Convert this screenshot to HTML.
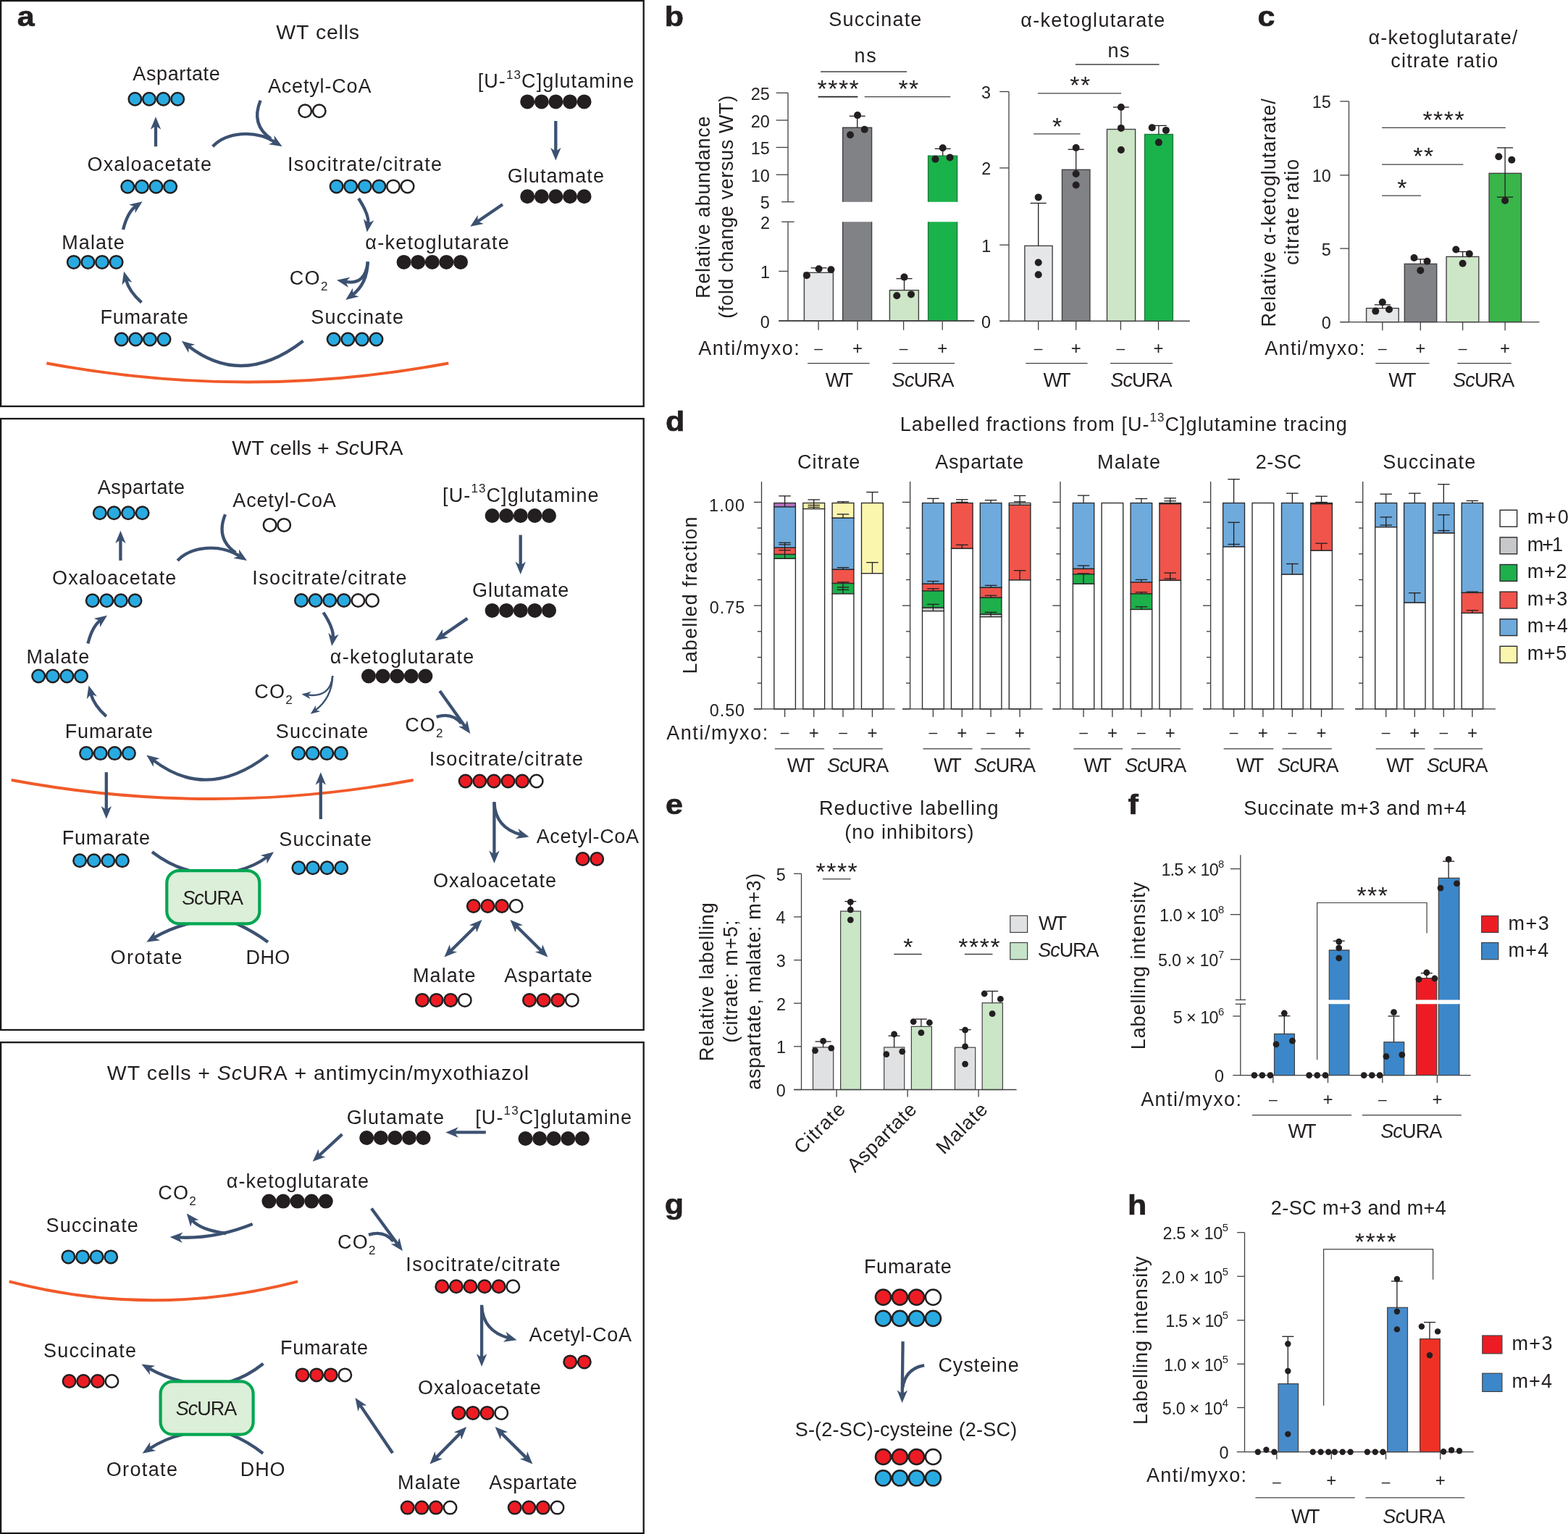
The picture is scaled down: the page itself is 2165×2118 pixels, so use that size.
<!DOCTYPE html>
<html lang="en"><head><meta charset="utf-8"><title>Figure</title>
<style>html,body{margin:0;padding:0;background:#fff}svg{display:block}text{font-family:"Liberation Sans",sans-serif;fill:#231f20;white-space:pre;font-kerning:none}</style></head>
<body>
<svg width="2165" height="2118" viewBox="0 0 2165 2118">
<rect x="1.1" y="1.1" width="887.6" height="559.9" fill="none" stroke="#1a1718" stroke-width="2.3"/>
<text transform="translate(25.1 36.3) scale(1.09 1)" x="-1.16" y="0" font-size="39.5" font-weight="700" stroke="#231f20" stroke-width="0.7" stroke-linejoin="round">a</text>
<text x="381.37" y="54" font-size="28.5" letter-spacing="0.77">WT cells</text>
<text x="183.35" y="110.6" font-size="27" letter-spacing="0.6">Aspartate</text>
<text x="369.95" y="128" font-size="27" letter-spacing="0.83">Acetyl-CoA</text>
<text x="659.68" y="121.3" font-size="27" letter-spacing="1.1">[U-<tspan font-size="17.01" dy="-12.69">13</tspan><tspan dy="12.69">C]glutamine</tspan></text>
<text x="120.62" y="235.8" font-size="27" letter-spacing="1.11">Oxaloacetate</text>
<text x="396.91" y="235.8" font-size="27" letter-spacing="1.33">Isocitrate/citrate</text>
<text x="700.64" y="252" font-size="27" letter-spacing="1.09">Glutamate</text>
<text x="85.19" y="344" font-size="27" letter-spacing="1.13">Malate</text>
<text x="504.37" y="344" font-size="27" letter-spacing="1.27">α-ketoglutarate</text>
<text x="399.83" y="392.6" font-size="27" letter-spacing="1.28">CO<tspan font-size="17.01" dy="8.1">2</tspan></text>
<text x="138.39" y="446.9" font-size="27" letter-spacing="0.82">Fumarate</text>
<text x="429.37" y="446.9" font-size="27" letter-spacing="1.12">Succinate</text>
<circle cx="186.4" cy="136.7" r="8.75" fill="#29abe2" stroke="#231f20" stroke-width="2.5"/>
<circle cx="206" cy="136.7" r="8.75" fill="#29abe2" stroke="#231f20" stroke-width="2.5"/>
<circle cx="225.6" cy="136.7" r="8.75" fill="#29abe2" stroke="#231f20" stroke-width="2.5"/>
<circle cx="245.2" cy="136.7" r="8.75" fill="#29abe2" stroke="#231f20" stroke-width="2.5"/>
<circle cx="421.2" cy="153.3" r="8.75" fill="#ffffff" stroke="#231f20" stroke-width="2.5"/>
<circle cx="440.8" cy="153.3" r="8.75" fill="#ffffff" stroke="#231f20" stroke-width="2.5"/>
<circle cx="728.2" cy="140.4" r="8.75" fill="#231f20" stroke="#231f20" stroke-width="2.5"/>
<circle cx="747.8" cy="140.4" r="8.75" fill="#231f20" stroke="#231f20" stroke-width="2.5"/>
<circle cx="767.4" cy="140.4" r="8.75" fill="#231f20" stroke="#231f20" stroke-width="2.5"/>
<circle cx="787" cy="140.4" r="8.75" fill="#231f20" stroke="#231f20" stroke-width="2.5"/>
<circle cx="806.6" cy="140.4" r="8.75" fill="#231f20" stroke="#231f20" stroke-width="2.5"/>
<circle cx="176.3" cy="257.7" r="8.75" fill="#29abe2" stroke="#231f20" stroke-width="2.5"/>
<circle cx="195.9" cy="257.7" r="8.75" fill="#29abe2" stroke="#231f20" stroke-width="2.5"/>
<circle cx="215.5" cy="257.7" r="8.75" fill="#29abe2" stroke="#231f20" stroke-width="2.5"/>
<circle cx="235.1" cy="257.7" r="8.75" fill="#29abe2" stroke="#231f20" stroke-width="2.5"/>
<circle cx="464.6" cy="257.4" r="8.75" fill="#29abe2" stroke="#231f20" stroke-width="2.5"/>
<circle cx="484.2" cy="257.4" r="8.75" fill="#29abe2" stroke="#231f20" stroke-width="2.5"/>
<circle cx="503.8" cy="257.4" r="8.75" fill="#29abe2" stroke="#231f20" stroke-width="2.5"/>
<circle cx="523.4" cy="257.4" r="8.75" fill="#29abe2" stroke="#231f20" stroke-width="2.5"/>
<circle cx="543" cy="257.4" r="8.75" fill="#ffffff" stroke="#231f20" stroke-width="2.5"/>
<circle cx="562.6" cy="257.4" r="8.75" fill="#ffffff" stroke="#231f20" stroke-width="2.5"/>
<circle cx="728.2" cy="271.3" r="8.75" fill="#231f20" stroke="#231f20" stroke-width="2.5"/>
<circle cx="747.8" cy="271.3" r="8.75" fill="#231f20" stroke="#231f20" stroke-width="2.5"/>
<circle cx="767.4" cy="271.3" r="8.75" fill="#231f20" stroke="#231f20" stroke-width="2.5"/>
<circle cx="787" cy="271.3" r="8.75" fill="#231f20" stroke="#231f20" stroke-width="2.5"/>
<circle cx="806.6" cy="271.3" r="8.75" fill="#231f20" stroke="#231f20" stroke-width="2.5"/>
<circle cx="101.8" cy="361.9" r="8.75" fill="#29abe2" stroke="#231f20" stroke-width="2.5"/>
<circle cx="121.4" cy="361.9" r="8.75" fill="#29abe2" stroke="#231f20" stroke-width="2.5"/>
<circle cx="141" cy="361.9" r="8.75" fill="#29abe2" stroke="#231f20" stroke-width="2.5"/>
<circle cx="160.6" cy="361.9" r="8.75" fill="#29abe2" stroke="#231f20" stroke-width="2.5"/>
<circle cx="557.6" cy="361.9" r="8.75" fill="#231f20" stroke="#231f20" stroke-width="2.5"/>
<circle cx="577.2" cy="361.9" r="8.75" fill="#231f20" stroke="#231f20" stroke-width="2.5"/>
<circle cx="596.8" cy="361.9" r="8.75" fill="#231f20" stroke="#231f20" stroke-width="2.5"/>
<circle cx="616.4" cy="361.9" r="8.75" fill="#231f20" stroke="#231f20" stroke-width="2.5"/>
<circle cx="636" cy="361.9" r="8.75" fill="#231f20" stroke="#231f20" stroke-width="2.5"/>
<circle cx="167.7" cy="468.5" r="8.75" fill="#29abe2" stroke="#231f20" stroke-width="2.5"/>
<circle cx="187.3" cy="468.5" r="8.75" fill="#29abe2" stroke="#231f20" stroke-width="2.5"/>
<circle cx="206.9" cy="468.5" r="8.75" fill="#29abe2" stroke="#231f20" stroke-width="2.5"/>
<circle cx="226.5" cy="468.5" r="8.75" fill="#29abe2" stroke="#231f20" stroke-width="2.5"/>
<circle cx="460.7" cy="468.5" r="8.75" fill="#29abe2" stroke="#231f20" stroke-width="2.5"/>
<circle cx="480.3" cy="468.5" r="8.75" fill="#29abe2" stroke="#231f20" stroke-width="2.5"/>
<circle cx="499.9" cy="468.5" r="8.75" fill="#29abe2" stroke="#231f20" stroke-width="2.5"/>
<circle cx="519.5" cy="468.5" r="8.75" fill="#29abe2" stroke="#231f20" stroke-width="2.5"/>
<polygon points="215,161.2 222.25,178.7 215,173.7 207.75,178.7" fill="#3c5171"/>
<path d="M215 202.3L215 172.7" stroke="#3c5171" stroke-width="4.3" fill="none"/>
<polygon points="389.6,202.3 370.91,199.24 378.97,195.72 378.54,186.92" fill="#3c5171"/>
<path d="M293.7 202.3C313 182 352 179 379.82 196.24" stroke="#3c5171" stroke-width="4.3" fill="none"/>
<path d="M359.6 138.7Q346 172 374 191.5" stroke="#3c5171" stroke-width="4.3" fill="none"/>
<polygon points="506.7,320.5 501.95,302.16 508.44,308.12 516.31,304.18" fill="#3c5171"/>
<path d="M495.1 274Q510 297 508.3 309.11" stroke="#3c5171" stroke-width="4.3" fill="none"/>
<polygon points="649.3,312.8 659.67,296.95 659.63,305.75 667.84,308.93" fill="#3c5171"/>
<path d="M694 282.3L658.8 306.32" stroke="#3c5171" stroke-width="4.3" fill="none"/>
<polygon points="767.3,221.5 760.05,204 767.3,209 774.55,204" fill="#3c5171"/>
<path d="M767.3 167L767.3 210" stroke="#3c5171" stroke-width="4.3" fill="none"/>
<polygon points="477.3,414.1 487.01,397.84 487.33,406.64 495.67,409.47" fill="#3c5171"/>
<path d="M507.8 361.4Q507 392 486.53 407.23" stroke="#3c5171" stroke-width="4.3" fill="none"/>
<polygon points="465,386.8 483.51,382.76 477.3,389.01 480.94,397.04" fill="#3c5171"/>
<path d="M507.8 361.4Q505 394 476.32 388.84" stroke="#3c5171" stroke-width="4.3" fill="none"/>
<polygon points="250.9,470.8 269.19,475.74 260.8,478.43 260.34,487.22" fill="#3c5171"/>
<path d="M418.6 470.8Q335 535.6 260.01 477.82" stroke="#3c5171" stroke-width="4.3" fill="none"/>
<polygon points="171.1,374.8 182.43,389.98 174.17,386.92 168.38,393.55" fill="#3c5171"/>
<path d="M195.4 417.6Q178 402 173.93 385.95" stroke="#3c5171" stroke-width="4.3" fill="none"/>
<polygon points="196.6,278.2 186.62,294.3 186.45,285.49 178.16,282.52" fill="#3c5171"/>
<path d="M170 317Q176 293 187.26 284.91" stroke="#3c5171" stroke-width="4.3" fill="none"/>
<path d="M64.3 501.5Q341.8 553.4 619.3 501.5" stroke="#f15a29" stroke-width="3.9" fill="none"/>
<rect x="1.1" y="578.1" width="887.6" height="843.9" fill="none" stroke="#1a1718" stroke-width="2.3"/>
<text x="320.17" y="628.2" font-size="28.5" letter-spacing="0.08">WT cells + <tspan font-style="italic">Sc</tspan>URA</text>
<text x="134.75" y="682.2" font-size="27" letter-spacing="0.6">Aspartate</text>
<text x="321.35" y="699.6" font-size="27" letter-spacing="0.83">Acetyl-CoA</text>
<text x="611.08" y="692.9" font-size="27" letter-spacing="1.1">[U-<tspan font-size="17.01" dy="-12.69">13</tspan><tspan dy="12.69">C]glutamine</tspan></text>
<text x="72.02" y="807.4" font-size="27" letter-spacing="1.11">Oxaloacetate</text>
<text x="348.31" y="807.4" font-size="27" letter-spacing="1.33">Isocitrate/citrate</text>
<text x="652.04" y="823.6" font-size="27" letter-spacing="1.09">Glutamate</text>
<text x="36.59" y="915.6" font-size="27" letter-spacing="1.13">Malate</text>
<text x="455.77" y="915.6" font-size="27" letter-spacing="1.27">α-ketoglutarate</text>
<text x="351.23" y="964.2" font-size="27" letter-spacing="1.28">CO<tspan font-size="17.01" dy="8.1">2</tspan></text>
<text x="89.79" y="1018.5" font-size="27" letter-spacing="0.82">Fumarate</text>
<text x="380.77" y="1018.5" font-size="27" letter-spacing="1.12">Succinate</text>
<circle cx="137.8" cy="708.3" r="8.75" fill="#29abe2" stroke="#231f20" stroke-width="2.5"/>
<circle cx="157.4" cy="708.3" r="8.75" fill="#29abe2" stroke="#231f20" stroke-width="2.5"/>
<circle cx="177" cy="708.3" r="8.75" fill="#29abe2" stroke="#231f20" stroke-width="2.5"/>
<circle cx="196.6" cy="708.3" r="8.75" fill="#29abe2" stroke="#231f20" stroke-width="2.5"/>
<circle cx="372.6" cy="724.9" r="8.75" fill="#ffffff" stroke="#231f20" stroke-width="2.5"/>
<circle cx="392.2" cy="724.9" r="8.75" fill="#ffffff" stroke="#231f20" stroke-width="2.5"/>
<circle cx="679.6" cy="712" r="8.75" fill="#231f20" stroke="#231f20" stroke-width="2.5"/>
<circle cx="699.2" cy="712" r="8.75" fill="#231f20" stroke="#231f20" stroke-width="2.5"/>
<circle cx="718.8" cy="712" r="8.75" fill="#231f20" stroke="#231f20" stroke-width="2.5"/>
<circle cx="738.4" cy="712" r="8.75" fill="#231f20" stroke="#231f20" stroke-width="2.5"/>
<circle cx="758" cy="712" r="8.75" fill="#231f20" stroke="#231f20" stroke-width="2.5"/>
<circle cx="127.7" cy="829.3" r="8.75" fill="#29abe2" stroke="#231f20" stroke-width="2.5"/>
<circle cx="147.3" cy="829.3" r="8.75" fill="#29abe2" stroke="#231f20" stroke-width="2.5"/>
<circle cx="166.9" cy="829.3" r="8.75" fill="#29abe2" stroke="#231f20" stroke-width="2.5"/>
<circle cx="186.5" cy="829.3" r="8.75" fill="#29abe2" stroke="#231f20" stroke-width="2.5"/>
<circle cx="416" cy="829" r="8.75" fill="#29abe2" stroke="#231f20" stroke-width="2.5"/>
<circle cx="435.6" cy="829" r="8.75" fill="#29abe2" stroke="#231f20" stroke-width="2.5"/>
<circle cx="455.2" cy="829" r="8.75" fill="#29abe2" stroke="#231f20" stroke-width="2.5"/>
<circle cx="474.8" cy="829" r="8.75" fill="#29abe2" stroke="#231f20" stroke-width="2.5"/>
<circle cx="494.4" cy="829" r="8.75" fill="#ffffff" stroke="#231f20" stroke-width="2.5"/>
<circle cx="514" cy="829" r="8.75" fill="#ffffff" stroke="#231f20" stroke-width="2.5"/>
<circle cx="679.6" cy="842.9" r="8.75" fill="#231f20" stroke="#231f20" stroke-width="2.5"/>
<circle cx="699.2" cy="842.9" r="8.75" fill="#231f20" stroke="#231f20" stroke-width="2.5"/>
<circle cx="718.8" cy="842.9" r="8.75" fill="#231f20" stroke="#231f20" stroke-width="2.5"/>
<circle cx="738.4" cy="842.9" r="8.75" fill="#231f20" stroke="#231f20" stroke-width="2.5"/>
<circle cx="758" cy="842.9" r="8.75" fill="#231f20" stroke="#231f20" stroke-width="2.5"/>
<circle cx="53.2" cy="933.5" r="8.75" fill="#29abe2" stroke="#231f20" stroke-width="2.5"/>
<circle cx="72.8" cy="933.5" r="8.75" fill="#29abe2" stroke="#231f20" stroke-width="2.5"/>
<circle cx="92.4" cy="933.5" r="8.75" fill="#29abe2" stroke="#231f20" stroke-width="2.5"/>
<circle cx="112" cy="933.5" r="8.75" fill="#29abe2" stroke="#231f20" stroke-width="2.5"/>
<circle cx="509" cy="933.5" r="8.75" fill="#231f20" stroke="#231f20" stroke-width="2.5"/>
<circle cx="528.6" cy="933.5" r="8.75" fill="#231f20" stroke="#231f20" stroke-width="2.5"/>
<circle cx="548.2" cy="933.5" r="8.75" fill="#231f20" stroke="#231f20" stroke-width="2.5"/>
<circle cx="567.8" cy="933.5" r="8.75" fill="#231f20" stroke="#231f20" stroke-width="2.5"/>
<circle cx="587.4" cy="933.5" r="8.75" fill="#231f20" stroke="#231f20" stroke-width="2.5"/>
<circle cx="119.1" cy="1040.1" r="8.75" fill="#29abe2" stroke="#231f20" stroke-width="2.5"/>
<circle cx="138.7" cy="1040.1" r="8.75" fill="#29abe2" stroke="#231f20" stroke-width="2.5"/>
<circle cx="158.3" cy="1040.1" r="8.75" fill="#29abe2" stroke="#231f20" stroke-width="2.5"/>
<circle cx="177.9" cy="1040.1" r="8.75" fill="#29abe2" stroke="#231f20" stroke-width="2.5"/>
<circle cx="412.1" cy="1040.1" r="8.75" fill="#29abe2" stroke="#231f20" stroke-width="2.5"/>
<circle cx="431.7" cy="1040.1" r="8.75" fill="#29abe2" stroke="#231f20" stroke-width="2.5"/>
<circle cx="451.3" cy="1040.1" r="8.75" fill="#29abe2" stroke="#231f20" stroke-width="2.5"/>
<circle cx="470.9" cy="1040.1" r="8.75" fill="#29abe2" stroke="#231f20" stroke-width="2.5"/>
<polygon points="166.4,732.8 173.65,750.3 166.4,745.3 159.15,750.3" fill="#3c5171"/>
<path d="M166.4 773.9L166.4 744.3" stroke="#3c5171" stroke-width="4.3" fill="none"/>
<polygon points="341,773.9 322.31,770.84 330.37,767.32 329.94,758.52" fill="#3c5171"/>
<path d="M245.1 773.9C264.4 753.6 303.4 750.6 331.22 767.84" stroke="#3c5171" stroke-width="4.3" fill="none"/>
<path d="M311 710.3Q297.4 743.6 325.4 763.1" stroke="#3c5171" stroke-width="4.3" fill="none"/>
<polygon points="458.1,892.1 453.35,873.76 459.84,879.72 467.71,875.78" fill="#3c5171"/>
<path d="M446.5 845.6Q461.4 868.6 459.7 880.71" stroke="#3c5171" stroke-width="4.3" fill="none"/>
<polygon points="600.7,884.4 611.07,868.55 611.03,877.35 619.24,880.53" fill="#3c5171"/>
<path d="M645.4 853.9L610.2 877.92" stroke="#3c5171" stroke-width="4.3" fill="none"/>
<polygon points="718.7,793.1 711.45,775.6 718.7,780.6 725.95,775.6" fill="#3c5171"/>
<path d="M718.7 738.6L718.7 781.6" stroke="#3c5171" stroke-width="4.3" fill="none"/>
<polygon points="428.7,985.7 436,973.73 435.92,980.33 442.26,982.15" fill="#3c5171"/>
<path d="M459.2 933Q458.4 963.6 435.12 980.92" stroke="#3c5171" stroke-width="2.4" fill="none"/>
<polygon points="416.4,958.4 429.97,954.87 425.32,959.56 428.61,965.28" fill="#3c5171"/>
<path d="M459.2 933Q456.4 963.6 424.33 959.43" stroke="#3c5171" stroke-width="2.4" fill="none"/>
<polygon points="202.3,1042.4 220.59,1047.34 212.2,1050.03 211.74,1058.82" fill="#3c5171"/>
<path d="M370 1042.4Q286.4 1107.2 211.41 1049.42" stroke="#3c5171" stroke-width="4.3" fill="none"/>
<polygon points="122.5,946.4 133.83,961.58 125.57,958.52 119.78,965.15" fill="#3c5171"/>
<path d="M146.8 989.2Q129.4 973.6 125.33 957.55" stroke="#3c5171" stroke-width="4.3" fill="none"/>
<polygon points="148,849.8 138.02,865.9 137.85,857.09 129.56,854.12" fill="#3c5171"/>
<path d="M121.4 888.6Q127.4 864.6 138.66 856.51" stroke="#3c5171" stroke-width="4.3" fill="none"/>
<path d="M15.7 1077Q293.2 1128.9 570.7 1077" stroke="#f15a29" stroke-width="3.9" fill="none"/>
<polygon points="146.8,1130.5 139.55,1113 146.8,1118 154.05,1113" fill="#3c5171"/>
<path d="M146.8 1066.2L146.8 1119" stroke="#3c5171" stroke-width="4.3" fill="none"/>
<polygon points="442.8,1066.2 450.05,1083.7 442.8,1078.7 435.55,1083.7" fill="#3c5171"/>
<path d="M442.8 1131L442.8 1077.7" stroke="#3c5171" stroke-width="4.3" fill="none"/>
<text x="85.69" y="1166.2" font-size="27" letter-spacing="0.82">Fumarate</text>
<circle cx="110.1" cy="1188.3" r="8.75" fill="#29abe2" stroke="#231f20" stroke-width="2.5"/>
<circle cx="129.7" cy="1188.3" r="8.75" fill="#29abe2" stroke="#231f20" stroke-width="2.5"/>
<circle cx="149.3" cy="1188.3" r="8.75" fill="#29abe2" stroke="#231f20" stroke-width="2.5"/>
<circle cx="168.9" cy="1188.3" r="8.75" fill="#29abe2" stroke="#231f20" stroke-width="2.5"/>
<text x="385.37" y="1167.9" font-size="27" letter-spacing="1.12">Succinate</text>
<circle cx="412.4" cy="1198.2" r="8.75" fill="#29abe2" stroke="#231f20" stroke-width="2.5"/>
<circle cx="432" cy="1198.2" r="8.75" fill="#29abe2" stroke="#231f20" stroke-width="2.5"/>
<circle cx="451.6" cy="1198.2" r="8.75" fill="#29abe2" stroke="#231f20" stroke-width="2.5"/>
<circle cx="471.2" cy="1198.2" r="8.75" fill="#29abe2" stroke="#231f20" stroke-width="2.5"/>
<path d="M210 1176.2Q236 1196 262 1202" stroke="#3c5171" stroke-width="4.3" fill="none"/>
<polygon points="378.1,1176.2 368.54,1192.55 368.14,1183.75 359.78,1181" fill="#3c5171"/>
<path d="M328 1202Q352 1196 368.94 1183.15" stroke="#3c5171" stroke-width="4.3" fill="none"/>
<polygon points="202.3,1300.7 213.75,1285.61 213.09,1294.39 221.07,1298.13" fill="#3c5171"/>
<path d="M262 1275Q236 1281 212.23 1294.9" stroke="#3c5171" stroke-width="4.3" fill="none"/>
<path d="M370 1300.7Q350 1286 326 1275" stroke="#3c5171" stroke-width="4.3" fill="none"/>
<rect x="230.3" y="1202.1" width="128" height="73.2" rx="17" ry="17" fill="#dcefd8" stroke="#00a651" stroke-width="4.2"/>
<text x="251.24" y="1249" font-size="27" letter-spacing="-0.92"><tspan font-style="italic">Sc</tspan>URA</text>
<text x="152.52" y="1331.1" font-size="27" letter-spacing="1.51">Orotate</text>
<text x="339.59" y="1331.1" font-size="27" letter-spacing="0.3">DHO</text>
<polygon points="649.3,1013 633.23,1002.98 642.03,1002.83 645.02,994.55" fill="#3c5171"/>
<path d="M607.2 954.1L642.61 1003.64" stroke="#3c5171" stroke-width="4.3" fill="none"/>
<path d="M602.6 989.9Q624 983 637 999" stroke="#3c5171" stroke-width="4.3" fill="none"/>
<text x="559.13" y="1009.5" font-size="27" letter-spacing="1.23">CO<tspan font-size="17.01" dy="8.1">2</tspan></text>
<text x="592.71" y="1056.9" font-size="27" letter-spacing="1.28">Isocitrate/citrate</text>
<circle cx="642.7" cy="1078.5" r="8.75" fill="#ed1c24" stroke="#231f20" stroke-width="2.5"/>
<circle cx="662.3" cy="1078.5" r="8.75" fill="#ed1c24" stroke="#231f20" stroke-width="2.5"/>
<circle cx="681.9" cy="1078.5" r="8.75" fill="#ed1c24" stroke="#231f20" stroke-width="2.5"/>
<circle cx="701.5" cy="1078.5" r="8.75" fill="#ed1c24" stroke="#231f20" stroke-width="2.5"/>
<circle cx="721.1" cy="1078.5" r="8.75" fill="#ed1c24" stroke="#231f20" stroke-width="2.5"/>
<circle cx="740.7" cy="1078.5" r="8.75" fill="#ffffff" stroke="#231f20" stroke-width="2.5"/>
<polygon points="682.4,1192 675.15,1174.5 682.4,1179.5 689.65,1174.5" fill="#3c5171"/>
<path d="M682.4 1107.1L682.4 1180.5" stroke="#3c5171" stroke-width="4.3" fill="none"/>
<polygon points="730.5,1155.4 711.72,1157.9 718.42,1152.18 715.46,1143.89" fill="#3c5171"/>
<path d="M682.4 1108Q684 1143 719.39 1152.44" stroke="#3c5171" stroke-width="4.3" fill="none"/>
<text x="740.65" y="1163.9" font-size="27" letter-spacing="0.71">Acetyl-CoA</text>
<circle cx="804.6" cy="1186" r="8.75" fill="#ed1c24" stroke="#231f20" stroke-width="2.5"/>
<circle cx="824.2" cy="1186" r="8.75" fill="#ed1c24" stroke="#231f20" stroke-width="2.5"/>
<text x="597.92" y="1225.2" font-size="27" letter-spacing="1">Oxaloacetate</text>
<circle cx="653.8" cy="1251" r="8.75" fill="#ed1c24" stroke="#231f20" stroke-width="2.5"/>
<circle cx="673.4" cy="1251" r="8.75" fill="#ed1c24" stroke="#231f20" stroke-width="2.5"/>
<circle cx="693" cy="1251" r="8.75" fill="#ed1c24" stroke="#231f20" stroke-width="2.5"/>
<circle cx="712.6" cy="1251" r="8.75" fill="#ffffff" stroke="#231f20" stroke-width="2.5"/>
<polygon points="665.5,1270.1 658.15,1287.56 656.61,1278.89 647.96,1277.25" fill="#3c5171"/>
<polygon points="613.5,1321.5 620.85,1304.04 622.39,1312.71 631.04,1314.35" fill="#3c5171"/>
<path d="M621.68 1313.42L657.32 1278.18" stroke="#3c5171" stroke-width="4.3" fill="none"/>
<polygon points="704.4,1270.1 721.94,1277.25 713.29,1278.89 711.75,1287.56" fill="#3c5171"/>
<polygon points="756.4,1321.5 738.86,1314.35 747.51,1312.71 749.05,1304.04" fill="#3c5171"/>
<path d="M748.22 1313.42L712.58 1278.18" stroke="#3c5171" stroke-width="4.3" fill="none"/>
<text x="569.89" y="1355.9" font-size="27" letter-spacing="1.13">Malate</text>
<text x="696.25" y="1355.9" font-size="27" letter-spacing="0.74">Aspartate</text>
<circle cx="583" cy="1380.9" r="8.75" fill="#ed1c24" stroke="#231f20" stroke-width="2.5"/>
<circle cx="602.6" cy="1380.9" r="8.75" fill="#ed1c24" stroke="#231f20" stroke-width="2.5"/>
<circle cx="622.2" cy="1380.9" r="8.75" fill="#ed1c24" stroke="#231f20" stroke-width="2.5"/>
<circle cx="641.8" cy="1380.9" r="8.75" fill="#ffffff" stroke="#231f20" stroke-width="2.5"/>
<circle cx="731" cy="1380.9" r="8.75" fill="#ed1c24" stroke="#231f20" stroke-width="2.5"/>
<circle cx="750.6" cy="1380.9" r="8.75" fill="#ed1c24" stroke="#231f20" stroke-width="2.5"/>
<circle cx="770.2" cy="1380.9" r="8.75" fill="#ed1c24" stroke="#231f20" stroke-width="2.5"/>
<circle cx="789.8" cy="1380.9" r="8.75" fill="#ffffff" stroke="#231f20" stroke-width="2.5"/>
<rect x="1.1" y="1439.2" width="887.6" height="677.8" fill="none" stroke="#1a1718" stroke-width="2.3"/>
<text x="147.87" y="1490.9" font-size="28.5" letter-spacing="0.92">WT cells + <tspan font-style="italic">Sc</tspan>URA + antimycin/myxothiazol</text>
<text x="478.64" y="1551.7" font-size="27" letter-spacing="1.24">Glutamate</text>
<circle cx="506.2" cy="1571" r="8.75" fill="#231f20" stroke="#231f20" stroke-width="2.5"/>
<circle cx="525.8" cy="1571" r="8.75" fill="#231f20" stroke="#231f20" stroke-width="2.5"/>
<circle cx="545.4" cy="1571" r="8.75" fill="#231f20" stroke="#231f20" stroke-width="2.5"/>
<circle cx="565" cy="1571" r="8.75" fill="#231f20" stroke="#231f20" stroke-width="2.5"/>
<circle cx="584.6" cy="1571" r="8.75" fill="#231f20" stroke="#231f20" stroke-width="2.5"/>
<text x="656.18" y="1551.7" font-size="27" letter-spacing="1.13">[U-<tspan font-size="17.01" dy="-12.69">13</tspan><tspan dy="12.69">C]glutamine</tspan></text>
<circle cx="725.5" cy="1572" r="8.75" fill="#231f20" stroke="#231f20" stroke-width="2.5"/>
<circle cx="745.1" cy="1572" r="8.75" fill="#231f20" stroke="#231f20" stroke-width="2.5"/>
<circle cx="764.7" cy="1572" r="8.75" fill="#231f20" stroke="#231f20" stroke-width="2.5"/>
<circle cx="784.3" cy="1572" r="8.75" fill="#231f20" stroke="#231f20" stroke-width="2.5"/>
<circle cx="803.9" cy="1572" r="8.75" fill="#231f20" stroke="#231f20" stroke-width="2.5"/>
<polygon points="615.3,1563.4 632.8,1556.15 627.8,1563.4 632.8,1570.65" fill="#3c5171"/>
<path d="M670.8 1563.4L626.8 1563.4" stroke="#3c5171" stroke-width="4.3" fill="none"/>
<polygon points="431.7,1603.8 439.61,1586.59 440.87,1595.31 449.47,1597.23" fill="#3c5171"/>
<path d="M472.4 1566.1L440.14 1595.99" stroke="#3c5171" stroke-width="4.3" fill="none"/>
<text x="312.67" y="1640.1" font-size="27" letter-spacing="1.12">α-ketoglutarate</text>
<circle cx="371.4" cy="1658.6" r="8.75" fill="#231f20" stroke="#231f20" stroke-width="2.5"/>
<circle cx="391" cy="1658.6" r="8.75" fill="#231f20" stroke="#231f20" stroke-width="2.5"/>
<circle cx="410.6" cy="1658.6" r="8.75" fill="#231f20" stroke="#231f20" stroke-width="2.5"/>
<circle cx="430.2" cy="1658.6" r="8.75" fill="#231f20" stroke="#231f20" stroke-width="2.5"/>
<circle cx="449.8" cy="1658.6" r="8.75" fill="#231f20" stroke="#231f20" stroke-width="2.5"/>
<text x="218.33" y="1656.3" font-size="27" letter-spacing="1.23">CO<tspan font-size="17.01" dy="8.1">2</tspan></text>
<text x="63.57" y="1700.7" font-size="27" letter-spacing="1.08">Succinate</text>
<circle cx="94.4" cy="1735.4" r="8.75" fill="#29abe2" stroke="#231f20" stroke-width="2.5"/>
<circle cx="114" cy="1735.4" r="8.75" fill="#29abe2" stroke="#231f20" stroke-width="2.5"/>
<circle cx="133.6" cy="1735.4" r="8.75" fill="#29abe2" stroke="#231f20" stroke-width="2.5"/>
<circle cx="153.2" cy="1735.4" r="8.75" fill="#29abe2" stroke="#231f20" stroke-width="2.5"/>
<polygon points="234.7,1707.9 252.54,1701.53 247.18,1708.52 251.82,1716.01" fill="#3c5171"/>
<path d="M348.7 1690.1Q297 1711 246.19 1708.47" stroke="#3c5171" stroke-width="4.3" fill="none"/>
<polygon points="257.8,1675.5 274.44,1684.55 265.66,1685.22 263.17,1693.67" fill="#3c5171"/>
<path d="M312 1703Q276 1698 265.03 1684.44" stroke="#3c5171" stroke-width="4.3" fill="none"/>
<polygon points="555.9,1727.3 539.71,1717.47 548.51,1717.22 551.41,1708.9" fill="#3c5171"/>
<path d="M512.9 1668.6L549.1 1718.02" stroke="#3c5171" stroke-width="4.3" fill="none"/>
<path d="M509 1704.9Q530 1698 543 1714" stroke="#3c5171" stroke-width="4.3" fill="none"/>
<text x="465.93" y="1723.5" font-size="27" letter-spacing="1.23">CO<tspan font-size="17.01" dy="8.1">2</tspan></text>
<path d="M12.7 1769.4Q212 1821.2 411.1 1769.4" stroke="#f15a29" stroke-width="3.9" fill="none"/>
<text x="60.07" y="1873.8" font-size="27" letter-spacing="1.17">Succinate</text>
<circle cx="95.6" cy="1907" r="8.75" fill="#ed1c24" stroke="#231f20" stroke-width="2.5"/>
<circle cx="115.2" cy="1907" r="8.75" fill="#ed1c24" stroke="#231f20" stroke-width="2.5"/>
<circle cx="134.8" cy="1907" r="8.75" fill="#ed1c24" stroke="#231f20" stroke-width="2.5"/>
<circle cx="154.4" cy="1907" r="8.75" fill="#ffffff" stroke="#231f20" stroke-width="2.5"/>
<polygon points="195.4,1883.4 214.19,1885.78 206.26,1889.59 207.01,1898.37" fill="#3c5171"/>
<path d="M253 1907.5Q228 1902 205.39 1889.1" stroke="#3c5171" stroke-width="4.3" fill="none"/>
<path d="M363.5 1882.7Q342 1900 318 1907.5" stroke="#3c5171" stroke-width="4.3" fill="none"/>
<polygon points="196.6,2006.7 207.22,1991.01 207.04,1999.82 215.2,2003.12" fill="#3c5171"/>
<path d="M253 1980.5Q228 1986 206.2 2000.37" stroke="#3c5171" stroke-width="4.3" fill="none"/>
<path d="M363.1 2006.7Q342 1990 318 1980.5" stroke="#3c5171" stroke-width="4.3" fill="none"/>
<rect x="221.6" y="1907.4" width="128" height="73.2" rx="17" ry="17" fill="#dcefd8" stroke="#00a651" stroke-width="4.2"/>
<text x="242.74" y="1954.3" font-size="27" letter-spacing="-1"><tspan font-style="italic">Sc</tspan>URA</text>
<text x="386.99" y="1870.4" font-size="27" letter-spacing="0.77">Fumarate</text>
<circle cx="417.5" cy="1898.4" r="8.75" fill="#ed1c24" stroke="#231f20" stroke-width="2.5"/>
<circle cx="437.1" cy="1898.4" r="8.75" fill="#ed1c24" stroke="#231f20" stroke-width="2.5"/>
<circle cx="456.7" cy="1898.4" r="8.75" fill="#ed1c24" stroke="#231f20" stroke-width="2.5"/>
<circle cx="476.3" cy="1898.4" r="8.75" fill="#ffffff" stroke="#231f20" stroke-width="2.5"/>
<text x="146.72" y="2038.1" font-size="27" letter-spacing="1.37">Orotate</text>
<text x="331.79" y="2038.1" font-size="27" letter-spacing="0.85">DHO</text>
<text x="560.31" y="1755.2" font-size="27" letter-spacing="1.35">Isocitrate/citrate</text>
<circle cx="610.3" cy="1776.3" r="8.75" fill="#ed1c24" stroke="#231f20" stroke-width="2.5"/>
<circle cx="629.9" cy="1776.3" r="8.75" fill="#ed1c24" stroke="#231f20" stroke-width="2.5"/>
<circle cx="649.5" cy="1776.3" r="8.75" fill="#ed1c24" stroke="#231f20" stroke-width="2.5"/>
<circle cx="669.1" cy="1776.3" r="8.75" fill="#ed1c24" stroke="#231f20" stroke-width="2.5"/>
<circle cx="688.7" cy="1776.3" r="8.75" fill="#ed1c24" stroke="#231f20" stroke-width="2.5"/>
<circle cx="708.3" cy="1776.3" r="8.75" fill="#ffffff" stroke="#231f20" stroke-width="2.5"/>
<polygon points="665.1,1886.8 657.85,1869.3 665.1,1874.3 672.35,1869.3" fill="#3c5171"/>
<path d="M665.1 1801.7L665.1 1875.3" stroke="#3c5171" stroke-width="4.3" fill="none"/>
<polygon points="713.6,1850.3 694.83,1852.84 701.51,1847.11 698.53,1838.82" fill="#3c5171"/>
<path d="M665.1 1803Q667 1838 702.48 1847.37" stroke="#3c5171" stroke-width="4.3" fill="none"/>
<text x="730.45" y="1852.3" font-size="27" letter-spacing="0.73">Acetyl-CoA</text>
<circle cx="787.2" cy="1880.4" r="8.75" fill="#ed1c24" stroke="#231f20" stroke-width="2.5"/>
<circle cx="806.8" cy="1880.4" r="8.75" fill="#ed1c24" stroke="#231f20" stroke-width="2.5"/>
<text x="577.02" y="1924.7" font-size="27" letter-spacing="0.96">Oxaloacetate</text>
<circle cx="633.4" cy="1950.9" r="8.75" fill="#ed1c24" stroke="#231f20" stroke-width="2.5"/>
<circle cx="653" cy="1950.9" r="8.75" fill="#ed1c24" stroke="#231f20" stroke-width="2.5"/>
<circle cx="672.6" cy="1950.9" r="8.75" fill="#ed1c24" stroke="#231f20" stroke-width="2.5"/>
<circle cx="692.2" cy="1950.9" r="8.75" fill="#ffffff" stroke="#231f20" stroke-width="2.5"/>
<polygon points="490.5,1930.1 506.32,1940.53 497.51,1940.45 494.31,1948.66" fill="#3c5171"/>
<path d="M542.1 2006.3L496.95 1939.62" stroke="#3c5171" stroke-width="4.3" fill="none"/>
<polygon points="644.2,1970.1 637.06,1987.64 635.41,1978.99 626.74,1977.45" fill="#3c5171"/>
<polygon points="593.4,2021.5 600.54,2003.96 602.19,2012.61 610.86,2014.15" fill="#3c5171"/>
<path d="M601.48 2013.32L636.12 1978.28" stroke="#3c5171" stroke-width="4.3" fill="none"/>
<polygon points="683.6,1970.1 701.13,1977.28 692.47,1978.9 690.92,1987.57" fill="#3c5171"/>
<polygon points="735.4,2021.5 717.87,2014.32 726.53,2012.7 728.08,2004.03" fill="#3c5171"/>
<path d="M727.24 2013.4L691.76 1978.2" stroke="#3c5171" stroke-width="4.3" fill="none"/>
<text x="549.09" y="2055.7" font-size="27" letter-spacing="1.13">Malate</text>
<text x="675.25" y="2055.7" font-size="27" letter-spacing="0.75">Aspartate</text>
<circle cx="562.7" cy="2081.6" r="8.75" fill="#ed1c24" stroke="#231f20" stroke-width="2.5"/>
<circle cx="582.3" cy="2081.6" r="8.75" fill="#ed1c24" stroke="#231f20" stroke-width="2.5"/>
<circle cx="601.9" cy="2081.6" r="8.75" fill="#ed1c24" stroke="#231f20" stroke-width="2.5"/>
<circle cx="621.5" cy="2081.6" r="8.75" fill="#ffffff" stroke="#231f20" stroke-width="2.5"/>
<circle cx="710.7" cy="2081.6" r="8.75" fill="#ed1c24" stroke="#231f20" stroke-width="2.5"/>
<circle cx="730.3" cy="2081.6" r="8.75" fill="#ed1c24" stroke="#231f20" stroke-width="2.5"/>
<circle cx="749.9" cy="2081.6" r="8.75" fill="#ed1c24" stroke="#231f20" stroke-width="2.5"/>
<circle cx="769.5" cy="2081.6" r="8.75" fill="#ffffff" stroke="#231f20" stroke-width="2.5"/>
<text transform="translate(920.7 35.8) scale(1.09 1)" x="-2.6" y="0" font-size="39.5" font-weight="700" stroke="#231f20" stroke-width="0.7" stroke-linejoin="round">b</text>
<text x="1144.37" y="35.8" font-size="27" letter-spacing="1.18">Succinate</text>
<text x="853.59" y="285.7" font-size="27" letter-spacing="0.75" transform="rotate(-90 979.8 285.7)">Relative abundance</text>
<text x="858.18" y="285.7" font-size="27" letter-spacing="0.63" transform="rotate(-90 1012.2 285.7)">(fold change versus WT)</text>
<path d="M1088 128.3L1088 278.7" stroke="#414042" stroke-width="1.3" fill="none"/>
<path d="M1088 306.3L1088 443" stroke="#414042" stroke-width="1.3" fill="none"/>
<path d="M1071.6 128.3L1088 128.3" stroke="#414042" stroke-width="1.3" fill="none"/>
<path d="M1071.6 166L1088 166" stroke="#414042" stroke-width="1.3" fill="none"/>
<path d="M1071.6 203.5L1088 203.5" stroke="#414042" stroke-width="1.3" fill="none"/>
<path d="M1071.6 241.2L1088 241.2" stroke="#414042" stroke-width="1.3" fill="none"/>
<path d="M1079.2 278.7L1096.6 278.7" stroke="#414042" stroke-width="1.3" fill="none"/>
<path d="M1079.2 306.3L1096.6 306.3" stroke="#414042" stroke-width="1.3" fill="none"/>
<path d="M1075.3 374.5L1088 374.5" stroke="#414042" stroke-width="1.3" fill="none"/>
<path d="M1075.3 443L1345.2 443" stroke="#414042" stroke-width="1.3" fill="none"/>
<text x="1036.85" y="137.85" font-size="23.4">25</text>
<text x="1036.79" y="175.55" font-size="23.4">20</text>
<text x="1036.85" y="213.05" font-size="23.4">15</text>
<text x="1036.79" y="250.75" font-size="23.4">10</text>
<text x="1049.87" y="288.25" font-size="23.4">5</text>
<text x="1050.06" y="315.85" font-size="23.4">2</text>
<text x="1050.03" y="384.05" font-size="23.4">1</text>
<text x="1049.8" y="453.15" font-size="23.4">0</text>
<path d="M1130.1 443L1130.1 455.7" stroke="#414042" stroke-width="1.3" fill="none"/>
<path d="M1184 443L1184 455.7" stroke="#414042" stroke-width="1.3" fill="none"/>
<path d="M1247.6 443L1247.6 455.7" stroke="#414042" stroke-width="1.3" fill="none"/>
<path d="M1301.2 443L1301.2 455.7" stroke="#414042" stroke-width="1.3" fill="none"/>
<rect x="1110.4" y="376.4" width="40" height="66.6" fill="#e6e7e8" stroke="#414042" stroke-width="1.4"/>
<rect x="1163.6" y="306.3" width="40" height="136.7" fill="#808285"/>
<rect x="1163.6" y="176.2" width="40" height="102.6" fill="#808285"/>
<path d="M1163.6 278.8L1163.6 176.2L1203.6 176.2L1203.6 278.8" stroke="#414042" stroke-width="1.4" fill="none"/>
<path d="M1163.6 306.3L1163.6 443" stroke="#414042" stroke-width="1.4" fill="none"/>
<path d="M1203.6 306.3L1203.6 443" stroke="#414042" stroke-width="1.4" fill="none"/>
<rect x="1228.4" y="400.7" width="40" height="42.3" fill="#cde6c7" stroke="#414042" stroke-width="1.4"/>
<rect x="1281.6" y="306.3" width="40" height="136.7" fill="#1ab24b"/>
<rect x="1281.6" y="215.1" width="40" height="63.7" fill="#1ab24b"/>
<path d="M1281.6 278.8L1281.6 215.1L1321.6 215.1L1321.6 278.8" stroke="#1f7a3c" stroke-width="1.4" fill="none"/>
<path d="M1281.6 306.3L1281.6 443" stroke="#1f7a3c" stroke-width="1.4" fill="none"/>
<path d="M1321.6 306.3L1321.6 443" stroke="#1f7a3c" stroke-width="1.4" fill="none"/>
<path d="M1075.3 443L1345.2 443" stroke="#414042" stroke-width="1.3" fill="none"/>
<path d="M1130.6 369.9L1130.6 376.4" stroke="#231f20" stroke-width="1.3" fill="none"/>
<path d="M1119.6 369.9L1141.6 369.9" stroke="#231f20" stroke-width="1.3" fill="none"/>
<path d="M1183.7 160.3L1183.7 176.2" stroke="#231f20" stroke-width="1.3" fill="none"/>
<path d="M1172.7 160.3L1194.7 160.3" stroke="#231f20" stroke-width="1.3" fill="none"/>
<path d="M1248.5 384.7L1248.5 400.7" stroke="#231f20" stroke-width="1.3" fill="none"/>
<path d="M1237.5 384.7L1259.5 384.7" stroke="#231f20" stroke-width="1.3" fill="none"/>
<path d="M1301.7 205.4L1301.7 215.1" stroke="#231f20" stroke-width="1.3" fill="none"/>
<path d="M1290.7 205.4L1312.7 205.4" stroke="#231f20" stroke-width="1.3" fill="none"/>
<circle cx="1113.9" cy="380.3" r="5" fill="#231f20"/>
<circle cx="1130.6" cy="371.3" r="5" fill="#231f20"/>
<circle cx="1147.4" cy="372.2" r="5" fill="#231f20"/>
<circle cx="1184" cy="159.1" r="5" fill="#231f20"/>
<circle cx="1193.7" cy="178.8" r="5" fill="#231f20"/>
<circle cx="1174" cy="186.2" r="5" fill="#231f20"/>
<circle cx="1248.5" cy="382.6" r="5" fill="#231f20"/>
<circle cx="1238.3" cy="408.3" r="5" fill="#231f20"/>
<circle cx="1258" cy="406.4" r="5" fill="#231f20"/>
<circle cx="1301.7" cy="204.2" r="5" fill="#231f20"/>
<circle cx="1291.5" cy="219.7" r="5" fill="#231f20"/>
<circle cx="1311.6" cy="217.4" r="5" fill="#231f20"/>
<text x="1179.61" y="85.6" font-size="27" letter-spacing="1.55">ns</text>
<path d="M1133.1 99L1252 99" stroke="#414042" stroke-width="1.3" fill="none"/>
<text x="1128.53" y="134.42" font-size="34" letter-spacing="1.47">****</text>
<path d="M1129.6 133.7L1184.4 133.7" stroke="#231f20" stroke-width="1.8" fill="none"/>
<text x="1240.43" y="134.42" font-size="34" letter-spacing="1.47">**</text>
<path d="M1193.7 133.7L1312.3 133.7" stroke="#414042" stroke-width="1.3" fill="none"/>
<text x="964.25" y="489.7" font-size="27" letter-spacing="1.49">Anti/myxo:</text>
<text x="1124.27" y="487.63" font-size="21">–</text>
<text x="1177" y="489.08" font-size="24">+</text>
<text x="1241.77" y="487.63" font-size="21">–</text>
<text x="1294.2" y="489.08" font-size="24">+</text>
<path d="M1115.1 501.7L1200.6 501.7" stroke="#414042" stroke-width="1.3" fill="none"/>
<path d="M1232.3 501.7L1318.1 501.7" stroke="#414042" stroke-width="1.3" fill="none"/>
<text x="1139.68" y="533.6" font-size="27" letter-spacing="-3.54">WT</text>
<text x="1231.54" y="533.6" font-size="27" letter-spacing="-0.65"><tspan font-style="italic">Sc</tspan>URA</text>
<text x="1409.37" y="36.5" font-size="27" letter-spacing="1.3">α-ketoglutarate</text>
<path d="M1393 126.5L1393 443.4" stroke="#414042" stroke-width="1.3" fill="none"/>
<path d="M1380.2 126.5L1393 126.5" stroke="#414042" stroke-width="1.3" fill="none"/>
<text x="1355.11" y="136.05" font-size="23.4">3</text>
<path d="M1380.2 231.9L1393 231.9" stroke="#414042" stroke-width="1.3" fill="none"/>
<text x="1355.26" y="241.45" font-size="23.4">2</text>
<path d="M1380.2 338.2L1393 338.2" stroke="#414042" stroke-width="1.3" fill="none"/>
<text x="1355.23" y="347.75" font-size="23.4">1</text>
<path d="M1380.2 443.4L1393 443.4" stroke="#414042" stroke-width="1.3" fill="none"/>
<text x="1355" y="452.95" font-size="23.4">0</text>
<path d="M1380.2 443.4L1642.7 443.4" stroke="#414042" stroke-width="1.3" fill="none"/>
<path d="M1433.7 443.4L1433.7 455.7" stroke="#414042" stroke-width="1.3" fill="none"/>
<path d="M1485.7 443.4L1485.7 455.7" stroke="#414042" stroke-width="1.3" fill="none"/>
<path d="M1547.4 443.4L1547.4 455.7" stroke="#414042" stroke-width="1.3" fill="none"/>
<path d="M1599.5 443.4L1599.5 455.7" stroke="#414042" stroke-width="1.3" fill="none"/>
<rect x="1414.9" y="339.4" width="38.2" height="104" fill="#e6e7e8" stroke="#414042" stroke-width="1.4"/>
<rect x="1466.5" y="234.3" width="38.4" height="209.1" fill="#808285" stroke="#414042" stroke-width="1.4"/>
<rect x="1528.5" y="178.5" width="39.1" height="264.9" fill="#cde6c7" stroke="#414042" stroke-width="1.4"/>
<rect x="1580.5" y="185.5" width="38.9" height="257.9" fill="#1ab24b" stroke="#1f7a3c" stroke-width="1.4"/>
<path d="M1380.2 443.4L1642.7 443.4" stroke="#414042" stroke-width="1.3" fill="none"/>
<path d="M1433.7 280.5L1433.7 339.4" stroke="#231f20" stroke-width="1.3" fill="none"/>
<path d="M1422.7 280.5L1444.7 280.5" stroke="#231f20" stroke-width="1.3" fill="none"/>
<path d="M1485.7 206.3L1485.7 234.3" stroke="#231f20" stroke-width="1.3" fill="none"/>
<path d="M1474.7 206.3L1496.7 206.3" stroke="#231f20" stroke-width="1.3" fill="none"/>
<path d="M1547.9 148L1547.9 178.5" stroke="#231f20" stroke-width="1.3" fill="none"/>
<path d="M1536.9 148L1558.9 148" stroke="#231f20" stroke-width="1.3" fill="none"/>
<path d="M1599.9 173.4L1599.9 185.5" stroke="#231f20" stroke-width="1.3" fill="none"/>
<path d="M1588.9 173.4L1610.9 173.4" stroke="#231f20" stroke-width="1.3" fill="none"/>
<circle cx="1433.7" cy="272.4" r="5" fill="#231f20"/>
<circle cx="1433.7" cy="362.5" r="5" fill="#231f20"/>
<circle cx="1433.7" cy="379.2" r="5" fill="#231f20"/>
<circle cx="1485.7" cy="204" r="5" fill="#231f20"/>
<circle cx="1485.7" cy="240" r="5" fill="#231f20"/>
<circle cx="1485.7" cy="255.5" r="5" fill="#231f20"/>
<circle cx="1547.9" cy="148" r="5" fill="#231f20"/>
<circle cx="1547.9" cy="176.9" r="5" fill="#231f20"/>
<circle cx="1547.9" cy="207" r="5" fill="#231f20"/>
<circle cx="1590.7" cy="176.2" r="5" fill="#231f20"/>
<circle cx="1609.9" cy="179.9" r="5" fill="#231f20"/>
<circle cx="1599.9" cy="196.6" r="5" fill="#231f20"/>
<text x="1529.51" y="78.6" font-size="27" letter-spacing="1.45">ns</text>
<path d="M1485 89L1600.6 89" stroke="#414042" stroke-width="1.3" fill="none"/>
<text x="1477.23" y="129.12" font-size="34" letter-spacing="1.47">**</text>
<path d="M1433 128.8L1548.1 128.8" stroke="#414042" stroke-width="1.3" fill="none"/>
<text x="1453.08" y="185.52" font-size="34">*</text>
<path d="M1427.2 184.8L1491.5 184.8" stroke="#414042" stroke-width="1.3" fill="none"/>
<text x="1427.87" y="487.63" font-size="21">–</text>
<text x="1478.7" y="489.08" font-size="24">+</text>
<text x="1541.57" y="487.63" font-size="21">–</text>
<text x="1592.5" y="489.08" font-size="24">+</text>
<path d="M1416.3 501.7L1501.6 501.7" stroke="#414042" stroke-width="1.3" fill="none"/>
<path d="M1533.1 501.7L1619.1 501.7" stroke="#414042" stroke-width="1.3" fill="none"/>
<text x="1440.48" y="533.6" font-size="27" letter-spacing="-3.84">WT</text>
<text x="1533.24" y="533.6" font-size="27" letter-spacing="-0.82"><tspan font-style="italic">Sc</tspan>URA</text>
<text transform="translate(1738.1 35.8) scale(1.09 1)" x="-1.54" y="0" font-size="39.5" font-weight="700" stroke="#231f20" stroke-width="0.7" stroke-linejoin="round">c</text>
<text x="1889.57" y="61.3" font-size="27" letter-spacing="1.17">α-ketoglutarate/</text>
<text x="1920.35" y="92.5" font-size="27" letter-spacing="1.19">citrate ratio</text>
<text x="1602.69" y="292.8" font-size="27" letter-spacing="0.91" transform="rotate(-90 1761.3 292.8)">Relative α-ketoglutarate/</text>
<text x="1720.05" y="292.8" font-size="27" letter-spacing="1.06" transform="rotate(-90 1793.2 292.8)">citrate ratio</text>
<path d="M1862.5 139.9L1862.5 444.6" stroke="#414042" stroke-width="1.3" fill="none"/>
<path d="M1850.3 139.9L1862.5 139.9" stroke="#414042" stroke-width="1.3" fill="none"/>
<text x="1811.85" y="149.45" font-size="23.4">15</text>
<path d="M1850.3 241.9L1862.5 241.9" stroke="#414042" stroke-width="1.3" fill="none"/>
<text x="1811.79" y="251.45" font-size="23.4">10</text>
<path d="M1850.3 343.1L1862.5 343.1" stroke="#414042" stroke-width="1.3" fill="none"/>
<text x="1824.87" y="352.65" font-size="23.4">5</text>
<path d="M1850.3 444.6L1862.5 444.6" stroke="#414042" stroke-width="1.3" fill="none"/>
<text x="1824.8" y="454.15" font-size="23.4">0</text>
<path d="M1908.8 444.6L1908.8 456.2" stroke="#414042" stroke-width="1.3" fill="none"/>
<path d="M1961.3 444.6L1961.3 456.2" stroke="#414042" stroke-width="1.3" fill="none"/>
<path d="M2019.6 444.6L2019.6 456.2" stroke="#414042" stroke-width="1.3" fill="none"/>
<path d="M2078.1 444.6L2078.1 456.2" stroke="#414042" stroke-width="1.3" fill="none"/>
<rect x="1886.6" y="425.6" width="44.6" height="19" fill="#e6e7e8" stroke="#414042" stroke-width="1.4"/>
<rect x="1939.3" y="364.4" width="44.4" height="80.2" fill="#808285" stroke="#414042" stroke-width="1.4"/>
<rect x="1997.1" y="354.4" width="44.7" height="90.2" fill="#cde6c7" stroke="#414042" stroke-width="1.4"/>
<rect x="2056.1" y="239.3" width="44.4" height="205.3" fill="#39b54a" stroke="#414042" stroke-width="1.4"/>
<path d="M1850.3 444.6L2125.5 444.6" stroke="#414042" stroke-width="1.3" fill="none"/>
<path d="M1908.8 420.8L1908.8 425.6" stroke="#231f20" stroke-width="1.3" fill="none"/>
<path d="M1897.8 420.8L1919.8 420.8" stroke="#231f20" stroke-width="1.3" fill="none"/>
<path d="M1961.3 357.9L1961.3 364.4" stroke="#231f20" stroke-width="1.3" fill="none"/>
<path d="M1950.3 357.9L1972.3 357.9" stroke="#231f20" stroke-width="1.3" fill="none"/>
<path d="M2019.6 347.5L2019.6 354.4" stroke="#231f20" stroke-width="1.3" fill="none"/>
<path d="M2008.6 347.5L2030.6 347.5" stroke="#231f20" stroke-width="1.3" fill="none"/>
<path d="M2078.1 204L2078.1 272.2" stroke="#231f20" stroke-width="1.3" fill="none"/>
<path d="M2067.1 204L2089.1 204" stroke="#231f20" stroke-width="1.3" fill="none"/>
<path d="M2067.1 272.2L2089.1 272.2" stroke="#231f20" stroke-width="1.3" fill="none"/>
<circle cx="1908.8" cy="417.3" r="5" fill="#231f20"/>
<circle cx="1899.3" cy="429.6" r="5" fill="#231f20"/>
<circle cx="1918" cy="427.3" r="5" fill="#231f20"/>
<circle cx="1952.5" cy="356" r="5" fill="#231f20"/>
<circle cx="1970.5" cy="360.7" r="5" fill="#231f20"/>
<circle cx="1961.3" cy="373.4" r="5" fill="#231f20"/>
<circle cx="2010.3" cy="344.5" r="5" fill="#231f20"/>
<circle cx="2028.8" cy="350.5" r="5" fill="#231f20"/>
<circle cx="2019.6" cy="363.7" r="5" fill="#231f20"/>
<circle cx="2069.3" cy="216.2" r="5" fill="#231f20"/>
<circle cx="2087.3" cy="220.8" r="5" fill="#231f20"/>
<circle cx="2078.1" cy="277" r="5" fill="#231f20"/>
<text x="1964.43" y="177.12" font-size="34" letter-spacing="1.47">****</text>
<path d="M1908.1 176.4L2078.8 176.4" stroke="#414042" stroke-width="1.3" fill="none"/>
<text x="1951.33" y="227.12" font-size="34" letter-spacing="1.47">**</text>
<path d="M1908.1 227.1L2020.3 227.1" stroke="#414042" stroke-width="1.3" fill="none"/>
<text x="1929.18" y="271.42" font-size="34">*</text>
<path d="M1908.1 270.1L1962 270.1" stroke="#414042" stroke-width="1.3" fill="none"/>
<text x="1746.15" y="489.7" font-size="27" letter-spacing="1.36">Anti/myxo:</text>
<text x="1902.97" y="487.63" font-size="21">–</text>
<text x="1954.3" y="489.08" font-size="24">+</text>
<text x="2013.77" y="487.63" font-size="21">–</text>
<text x="2071.1" y="489.08" font-size="24">+</text>
<path d="M1899.3 501.7L1973.5 501.7" stroke="#414042" stroke-width="1.3" fill="none"/>
<path d="M2012.2 501.7L2086.8 501.7" stroke="#414042" stroke-width="1.3" fill="none"/>
<text x="1917.18" y="533.6" font-size="27" letter-spacing="-3.74">WT</text>
<text x="2006.04" y="533.6" font-size="27" letter-spacing="-0.82"><tspan font-style="italic">Sc</tspan>URA</text>
<text transform="translate(920.7 595.1) scale(1.09 1)" x="-1.62" y="0" font-size="39.5" font-weight="700" stroke="#231f20" stroke-width="0.7" stroke-linejoin="round">d</text>
<text x="1242.79" y="595.1" font-size="27" letter-spacing="1.04">Labelled fractions from [U-<tspan font-size="17.01" dy="-12.69">13</tspan><tspan dy="12.69">C]glutamine tracing</tspan></text>
<text x="853.29" y="821.8" font-size="27" letter-spacing="1.18" transform="rotate(-90 962 821.8)">Labelled fraction</text>
<text x="978.92" y="705.75" font-size="23.4" letter-spacing="1.22">1.00</text>
<text x="979.79" y="847.05" font-size="23.4" letter-spacing="0.95">0.75</text>
<text x="979.79" y="989.25" font-size="23.4" letter-spacing="0.93">0.50</text>
<text x="920.25" y="1020.7" font-size="27" letter-spacing="1.54">Anti/myxo:</text>
<path d="M1051.5 664.9L1051.5 978.9" stroke="#3a3839" stroke-width="1.3" fill="none"/>
<path d="M1040.9 693.4L1051.5 693.4" stroke="#3a3839" stroke-width="1.3" fill="none"/>
<path d="M1045.9 729.09L1051.5 729.09" stroke="#3a3839" stroke-width="1.3" fill="none"/>
<path d="M1045.9 764.77L1051.5 764.77" stroke="#3a3839" stroke-width="1.3" fill="none"/>
<path d="M1045.9 800.46L1051.5 800.46" stroke="#3a3839" stroke-width="1.3" fill="none"/>
<path d="M1040.9 836.15L1051.5 836.15" stroke="#3a3839" stroke-width="1.3" fill="none"/>
<path d="M1045.9 871.84L1051.5 871.84" stroke="#3a3839" stroke-width="1.3" fill="none"/>
<path d="M1045.9 907.52L1051.5 907.52" stroke="#3a3839" stroke-width="1.3" fill="none"/>
<path d="M1045.9 943.21L1051.5 943.21" stroke="#3a3839" stroke-width="1.3" fill="none"/>
<path d="M1040.9 978.9L1051.5 978.9" stroke="#3a3839" stroke-width="1.3" fill="none"/>
<rect x="1068.8" y="694.5" width="29.6" height="5.4" fill="#b36fc1" stroke="#2b292a" stroke-width="1.35"/>
<rect x="1068.8" y="699.9" width="29.6" height="56.4" fill="#6eaadc" stroke="#2b292a" stroke-width="1.35"/>
<rect x="1068.8" y="756.3" width="29.6" height="9.2" fill="#f0544a" stroke="#2b292a" stroke-width="1.35"/>
<rect x="1068.8" y="765.5" width="29.6" height="5.8" fill="#1db04b" stroke="#2b292a" stroke-width="1.35"/>
<rect x="1068.8" y="771.3" width="29.6" height="207.6" fill="#ffffff" stroke="#2b292a" stroke-width="1.35"/>
<rect x="1108.8" y="694.5" width="29.8" height="8.1" fill="#fbf6ae" stroke="#2b292a" stroke-width="1.35"/>
<rect x="1108.8" y="702.6" width="29.8" height="276.3" fill="#ffffff" stroke="#2b292a" stroke-width="1.35"/>
<rect x="1149.1" y="694.5" width="29.8" height="20.8" fill="#fbf6ae" stroke="#2b292a" stroke-width="1.35"/>
<rect x="1149.1" y="715.3" width="29.8" height="71" fill="#6eaadc" stroke="#2b292a" stroke-width="1.35"/>
<rect x="1149.1" y="786.3" width="29.8" height="19.2" fill="#f0544a" stroke="#2b292a" stroke-width="1.35"/>
<rect x="1149.1" y="805.5" width="29.8" height="14.4" fill="#1db04b" stroke="#2b292a" stroke-width="1.35"/>
<rect x="1149.1" y="819.9" width="29.8" height="159" fill="#ffffff" stroke="#2b292a" stroke-width="1.35"/>
<rect x="1189.5" y="694.5" width="29.9" height="97.2" fill="#fbf6ae" stroke="#2b292a" stroke-width="1.35"/>
<rect x="1189.5" y="791.7" width="29.9" height="187.2" fill="#ffffff" stroke="#2b292a" stroke-width="1.35"/>
<path d="M1040.9 978.9L1235.8 978.9" stroke="#3a3839" stroke-width="1.3" fill="none"/>
<path d="M1083.6 684.8L1083.6 699.5" stroke="#231f20" stroke-width="1.3" fill="none"/>
<path d="M1075.35 684.8L1091.85 684.8" stroke="#231f20" stroke-width="1.3" fill="none"/>
<path d="M1083.6 749.3L1083.6 771.3" stroke="#231f20" stroke-width="1.3" fill="none"/>
<path d="M1075.35 749.3L1091.85 749.3" stroke="#231f20" stroke-width="1.3" fill="none"/>
<path d="M1083.6 751.9L1083.6 751.9" stroke="#231f20" stroke-width="1.3" fill="none"/>
<path d="M1075.35 751.9L1091.85 751.9" stroke="#231f20" stroke-width="1.3" fill="none"/>
<path d="M1083.6 759.7L1083.6 759.7" stroke="#231f20" stroke-width="1.3" fill="none"/>
<path d="M1075.35 759.7L1091.85 759.7" stroke="#231f20" stroke-width="1.3" fill="none"/>
<path d="M1123.7 689.9L1123.7 702.6" stroke="#231f20" stroke-width="1.3" fill="none"/>
<path d="M1115.45 689.9L1131.95 689.9" stroke="#231f20" stroke-width="1.3" fill="none"/>
<path d="M1123.7 697.5L1123.7 697.5" stroke="#231f20" stroke-width="1.3" fill="none"/>
<path d="M1115.45 697.5L1131.95 697.5" stroke="#231f20" stroke-width="1.3" fill="none"/>
<path d="M1123.7 700.3L1123.7 700.3" stroke="#231f20" stroke-width="1.3" fill="none"/>
<path d="M1115.45 700.3L1131.95 700.3" stroke="#231f20" stroke-width="1.3" fill="none"/>
<path d="M1164 692.7L1164 694.5" stroke="#231f20" stroke-width="1.3" fill="none"/>
<path d="M1155.75 692.7L1172.25 692.7" stroke="#231f20" stroke-width="1.3" fill="none"/>
<path d="M1164 710L1164 715.3" stroke="#231f20" stroke-width="1.3" fill="none"/>
<path d="M1155.75 710L1172.25 710" stroke="#231f20" stroke-width="1.3" fill="none"/>
<path d="M1164 783.6L1164 786.3" stroke="#231f20" stroke-width="1.3" fill="none"/>
<path d="M1155.75 783.6L1172.25 783.6" stroke="#231f20" stroke-width="1.3" fill="none"/>
<path d="M1164 803.7L1164 819.9" stroke="#231f20" stroke-width="1.3" fill="none"/>
<path d="M1155.75 803.7L1172.25 803.7" stroke="#231f20" stroke-width="1.3" fill="none"/>
<path d="M1164 810.8L1164 810.8" stroke="#231f20" stroke-width="1.3" fill="none"/>
<path d="M1155.75 810.8L1172.25 810.8" stroke="#231f20" stroke-width="1.3" fill="none"/>
<path d="M1164 814.3L1164 814.3" stroke="#231f20" stroke-width="1.3" fill="none"/>
<path d="M1155.75 814.3L1172.25 814.3" stroke="#231f20" stroke-width="1.3" fill="none"/>
<path d="M1204.45 679.5L1204.45 694.5" stroke="#231f20" stroke-width="1.3" fill="none"/>
<path d="M1196.2 679.5L1212.7 679.5" stroke="#231f20" stroke-width="1.3" fill="none"/>
<path d="M1204.45 776.6L1204.45 791.7" stroke="#231f20" stroke-width="1.3" fill="none"/>
<path d="M1196.2 776.6L1212.7 776.6" stroke="#231f20" stroke-width="1.3" fill="none"/>
<path d="M1083.6 978.9L1083.6 990" stroke="#3a3839" stroke-width="1.3" fill="none"/>
<path d="M1123.7 978.9L1123.7 990" stroke="#3a3839" stroke-width="1.3" fill="none"/>
<path d="M1164 978.9L1164 990" stroke="#3a3839" stroke-width="1.3" fill="none"/>
<path d="M1204.45 978.9L1204.45 990" stroke="#3a3839" stroke-width="1.3" fill="none"/>
<text x="1077.77" y="1018.33" font-size="21">–</text>
<text x="1116.7" y="1019.78" font-size="24">+</text>
<text x="1158.17" y="1018.33" font-size="21">–</text>
<text x="1197.45" y="1019.78" font-size="24">+</text>
<path d="M1069.8 1033.9L1138.1 1033.9" stroke="#3a3839" stroke-width="1.3" fill="none"/>
<path d="M1150.1 1033.9L1218.9 1033.9" stroke="#3a3839" stroke-width="1.3" fill="none"/>
<text x="1086.78" y="1065.6" font-size="27" letter-spacing="-3.84">WT</text>
<text x="1142.04" y="1065.6" font-size="27" letter-spacing="-0.82"><tspan font-style="italic">Sc</tspan>URA</text>
<text x="1100.93" y="646.7" font-size="27" letter-spacing="1.14">Citrate</text>
<path d="M1256.6 664.9L1256.6 978.9" stroke="#3a3839" stroke-width="1.3" fill="none"/>
<path d="M1246 693.4L1256.6 693.4" stroke="#3a3839" stroke-width="1.3" fill="none"/>
<path d="M1251 729.09L1256.6 729.09" stroke="#3a3839" stroke-width="1.3" fill="none"/>
<path d="M1251 764.77L1256.6 764.77" stroke="#3a3839" stroke-width="1.3" fill="none"/>
<path d="M1251 800.46L1256.6 800.46" stroke="#3a3839" stroke-width="1.3" fill="none"/>
<path d="M1246 836.15L1256.6 836.15" stroke="#3a3839" stroke-width="1.3" fill="none"/>
<path d="M1251 871.84L1256.6 871.84" stroke="#3a3839" stroke-width="1.3" fill="none"/>
<path d="M1251 907.52L1256.6 907.52" stroke="#3a3839" stroke-width="1.3" fill="none"/>
<path d="M1251 943.21L1256.6 943.21" stroke="#3a3839" stroke-width="1.3" fill="none"/>
<path d="M1246 978.9L1256.6 978.9" stroke="#3a3839" stroke-width="1.3" fill="none"/>
<rect x="1273.5" y="694.5" width="29.8" height="111.7" fill="#6eaadc" stroke="#2b292a" stroke-width="1.35"/>
<rect x="1273.5" y="806.2" width="29.8" height="9.7" fill="#f0544a" stroke="#2b292a" stroke-width="1.35"/>
<rect x="1273.5" y="815.9" width="29.8" height="23.2" fill="#1db04b" stroke="#2b292a" stroke-width="1.35"/>
<rect x="1273.5" y="839.1" width="29.8" height="4.6" fill="#c7c8ca" stroke="#2b292a" stroke-width="1.35"/>
<rect x="1273.5" y="843.7" width="29.8" height="135.2" fill="#ffffff" stroke="#2b292a" stroke-width="1.35"/>
<rect x="1313.5" y="694.5" width="29.6" height="62.9" fill="#f0544a" stroke="#2b292a" stroke-width="1.35"/>
<rect x="1313.5" y="757.4" width="29.6" height="221.5" fill="#ffffff" stroke="#2b292a" stroke-width="1.35"/>
<rect x="1353.3" y="694.5" width="29.6" height="116.8" fill="#6eaadc" stroke="#2b292a" stroke-width="1.35"/>
<rect x="1353.3" y="811.3" width="29.6" height="13.9" fill="#f0544a" stroke="#2b292a" stroke-width="1.35"/>
<rect x="1353.3" y="825.2" width="29.6" height="23" fill="#1db04b" stroke="#2b292a" stroke-width="1.35"/>
<rect x="1353.3" y="848.2" width="29.6" height="3.5" fill="#c7c8ca" stroke="#2b292a" stroke-width="1.35"/>
<rect x="1353.3" y="851.7" width="29.6" height="127.2" fill="#ffffff" stroke="#2b292a" stroke-width="1.35"/>
<rect x="1393.3" y="694.5" width="29.6" height="2.8" fill="#ffffff" stroke="#2b292a" stroke-width="1.35"/>
<rect x="1393.3" y="697.3" width="29.6" height="103.6" fill="#f0544a" stroke="#2b292a" stroke-width="1.35"/>
<rect x="1393.3" y="800.9" width="29.6" height="178" fill="#ffffff" stroke="#2b292a" stroke-width="1.35"/>
<path d="M1246 978.9L1439.7 978.9" stroke="#3a3839" stroke-width="1.3" fill="none"/>
<path d="M1288.4 688.3L1288.4 694.5" stroke="#231f20" stroke-width="1.3" fill="none"/>
<path d="M1280.15 688.3L1296.65 688.3" stroke="#231f20" stroke-width="1.3" fill="none"/>
<path d="M1288.4 802.5L1288.4 806.2" stroke="#231f20" stroke-width="1.3" fill="none"/>
<path d="M1280.15 802.5L1296.65 802.5" stroke="#231f20" stroke-width="1.3" fill="none"/>
<path d="M1288.4 812.7L1288.4 815.9" stroke="#231f20" stroke-width="1.3" fill="none"/>
<path d="M1280.15 812.7L1296.65 812.7" stroke="#231f20" stroke-width="1.3" fill="none"/>
<path d="M1288.4 834.4L1288.4 843.5" stroke="#231f20" stroke-width="1.3" fill="none"/>
<path d="M1280.15 834.4L1296.65 834.4" stroke="#231f20" stroke-width="1.3" fill="none"/>
<path d="M1328.3 689.7L1328.3 694.5" stroke="#231f20" stroke-width="1.3" fill="none"/>
<path d="M1320.05 689.7L1336.55 689.7" stroke="#231f20" stroke-width="1.3" fill="none"/>
<path d="M1328.3 693.4L1328.3 693.4" stroke="#231f20" stroke-width="1.3" fill="none"/>
<path d="M1320.05 693.4L1336.55 693.4" stroke="#231f20" stroke-width="1.3" fill="none"/>
<path d="M1328.3 752.3L1328.3 757.4" stroke="#231f20" stroke-width="1.3" fill="none"/>
<path d="M1320.05 752.3L1336.55 752.3" stroke="#231f20" stroke-width="1.3" fill="none"/>
<path d="M1368.1 690.6L1368.1 694.5" stroke="#231f20" stroke-width="1.3" fill="none"/>
<path d="M1359.85 690.6L1376.35 690.6" stroke="#231f20" stroke-width="1.3" fill="none"/>
<path d="M1368.1 808.3L1368.1 811.3" stroke="#231f20" stroke-width="1.3" fill="none"/>
<path d="M1359.85 808.3L1376.35 808.3" stroke="#231f20" stroke-width="1.3" fill="none"/>
<path d="M1368.1 822.2L1368.1 825.2" stroke="#231f20" stroke-width="1.3" fill="none"/>
<path d="M1359.85 822.2L1376.35 822.2" stroke="#231f20" stroke-width="1.3" fill="none"/>
<path d="M1368.1 845.4L1368.1 851.5" stroke="#231f20" stroke-width="1.3" fill="none"/>
<path d="M1359.85 845.4L1376.35 845.4" stroke="#231f20" stroke-width="1.3" fill="none"/>
<path d="M1408.1 684.4L1408.1 697.3" stroke="#231f20" stroke-width="1.3" fill="none"/>
<path d="M1399.85 684.4L1416.35 684.4" stroke="#231f20" stroke-width="1.3" fill="none"/>
<path d="M1408.1 692.7L1408.1 692.7" stroke="#231f20" stroke-width="1.3" fill="none"/>
<path d="M1399.85 692.7L1416.35 692.7" stroke="#231f20" stroke-width="1.3" fill="none"/>
<path d="M1408.1 787.7L1408.1 800.9" stroke="#231f20" stroke-width="1.3" fill="none"/>
<path d="M1399.85 787.7L1416.35 787.7" stroke="#231f20" stroke-width="1.3" fill="none"/>
<path d="M1288.4 978.9L1288.4 990" stroke="#3a3839" stroke-width="1.3" fill="none"/>
<path d="M1328.3 978.9L1328.3 990" stroke="#3a3839" stroke-width="1.3" fill="none"/>
<path d="M1368.1 978.9L1368.1 990" stroke="#3a3839" stroke-width="1.3" fill="none"/>
<path d="M1408.1 978.9L1408.1 990" stroke="#3a3839" stroke-width="1.3" fill="none"/>
<text x="1282.57" y="1018.33" font-size="21">–</text>
<text x="1321.3" y="1019.78" font-size="24">+</text>
<text x="1362.27" y="1018.33" font-size="21">–</text>
<text x="1401.1" y="1019.78" font-size="24">+</text>
<path d="M1274.5 1033.9L1342.6 1033.9" stroke="#3a3839" stroke-width="1.3" fill="none"/>
<path d="M1354.3 1033.9L1422.4 1033.9" stroke="#3a3839" stroke-width="1.3" fill="none"/>
<text x="1289.58" y="1065.6" font-size="27" letter-spacing="-3.84">WT</text>
<text x="1344.84" y="1065.6" font-size="27" letter-spacing="-0.82"><tspan font-style="italic">Sc</tspan>URA</text>
<text x="1291.25" y="646.7" font-size="27" letter-spacing="0.8">Aspartate</text>
<path d="M1464 664.9L1464 978.9" stroke="#3a3839" stroke-width="1.3" fill="none"/>
<path d="M1453.4 693.4L1464 693.4" stroke="#3a3839" stroke-width="1.3" fill="none"/>
<path d="M1458.4 729.09L1464 729.09" stroke="#3a3839" stroke-width="1.3" fill="none"/>
<path d="M1458.4 764.77L1464 764.77" stroke="#3a3839" stroke-width="1.3" fill="none"/>
<path d="M1458.4 800.46L1464 800.46" stroke="#3a3839" stroke-width="1.3" fill="none"/>
<path d="M1453.4 836.15L1464 836.15" stroke="#3a3839" stroke-width="1.3" fill="none"/>
<path d="M1458.4 871.84L1464 871.84" stroke="#3a3839" stroke-width="1.3" fill="none"/>
<path d="M1458.4 907.52L1464 907.52" stroke="#3a3839" stroke-width="1.3" fill="none"/>
<path d="M1458.4 943.21L1464 943.21" stroke="#3a3839" stroke-width="1.3" fill="none"/>
<path d="M1453.4 978.9L1464 978.9" stroke="#3a3839" stroke-width="1.3" fill="none"/>
<rect x="1481.4" y="694.5" width="29.3" height="90.9" fill="#6eaadc" stroke="#2b292a" stroke-width="1.35"/>
<rect x="1481.4" y="785.4" width="29.3" height="7.4" fill="#f0544a" stroke="#2b292a" stroke-width="1.35"/>
<rect x="1481.4" y="792.8" width="29.3" height="13.4" fill="#1db04b" stroke="#2b292a" stroke-width="1.35"/>
<rect x="1481.4" y="806.2" width="29.3" height="172.7" fill="#ffffff" stroke="#2b292a" stroke-width="1.35"/>
<rect x="1521.1" y="694.5" width="29.6" height="284.4" fill="#ffffff" stroke="#2b292a" stroke-width="1.35"/>
<rect x="1561.1" y="694.5" width="29.6" height="109.4" fill="#6eaadc" stroke="#2b292a" stroke-width="1.35"/>
<rect x="1561.1" y="803.9" width="29.6" height="16" fill="#f0544a" stroke="#2b292a" stroke-width="1.35"/>
<rect x="1561.1" y="819.9" width="29.6" height="21.6" fill="#1db04b" stroke="#2b292a" stroke-width="1.35"/>
<rect x="1561.1" y="841.5" width="29.6" height="137.4" fill="#ffffff" stroke="#2b292a" stroke-width="1.35"/>
<rect x="1600.9" y="694.5" width="29.6" height="1.2" fill="#ffffff" stroke="#2b292a" stroke-width="1.35"/>
<rect x="1600.9" y="695.7" width="29.6" height="105.7" fill="#f0544a" stroke="#2b292a" stroke-width="1.35"/>
<rect x="1600.9" y="801.4" width="29.6" height="177.5" fill="#ffffff" stroke="#2b292a" stroke-width="1.35"/>
<path d="M1453.4 978.9L1647.4 978.9" stroke="#3a3839" stroke-width="1.3" fill="none"/>
<path d="M1496.05 684.1L1496.05 694.5" stroke="#231f20" stroke-width="1.3" fill="none"/>
<path d="M1487.8 684.1L1504.3 684.1" stroke="#231f20" stroke-width="1.3" fill="none"/>
<path d="M1496.05 781L1496.05 785.4" stroke="#231f20" stroke-width="1.3" fill="none"/>
<path d="M1487.8 781L1504.3 781" stroke="#231f20" stroke-width="1.3" fill="none"/>
<path d="M1496.05 791.9L1496.05 806.2" stroke="#231f20" stroke-width="1.3" fill="none"/>
<path d="M1487.8 791.9L1504.3 791.9" stroke="#231f20" stroke-width="1.3" fill="none"/>
<path d="M1575.9 688.5L1575.9 694.5" stroke="#231f20" stroke-width="1.3" fill="none"/>
<path d="M1567.65 688.5L1584.15 688.5" stroke="#231f20" stroke-width="1.3" fill="none"/>
<path d="M1575.9 800.4L1575.9 803.9" stroke="#231f20" stroke-width="1.3" fill="none"/>
<path d="M1567.65 800.4L1584.15 800.4" stroke="#231f20" stroke-width="1.3" fill="none"/>
<path d="M1575.9 817.6L1575.9 819.9" stroke="#231f20" stroke-width="1.3" fill="none"/>
<path d="M1567.65 817.6L1584.15 817.6" stroke="#231f20" stroke-width="1.3" fill="none"/>
<path d="M1575.9 837.8L1575.9 841.5" stroke="#231f20" stroke-width="1.3" fill="none"/>
<path d="M1567.65 837.8L1584.15 837.8" stroke="#231f20" stroke-width="1.3" fill="none"/>
<path d="M1615.7 687.8L1615.7 695.7" stroke="#231f20" stroke-width="1.3" fill="none"/>
<path d="M1607.45 687.8L1623.95 687.8" stroke="#231f20" stroke-width="1.3" fill="none"/>
<path d="M1615.7 691.7L1615.7 691.7" stroke="#231f20" stroke-width="1.3" fill="none"/>
<path d="M1607.45 691.7L1623.95 691.7" stroke="#231f20" stroke-width="1.3" fill="none"/>
<path d="M1615.7 791L1615.7 801.4" stroke="#231f20" stroke-width="1.3" fill="none"/>
<path d="M1607.45 791L1623.95 791" stroke="#231f20" stroke-width="1.3" fill="none"/>
<path d="M1615.7 799L1615.7 799" stroke="#231f20" stroke-width="1.3" fill="none"/>
<path d="M1607.45 799L1623.95 799" stroke="#231f20" stroke-width="1.3" fill="none"/>
<path d="M1496.05 978.9L1496.05 990" stroke="#3a3839" stroke-width="1.3" fill="none"/>
<path d="M1535.9 978.9L1535.9 990" stroke="#3a3839" stroke-width="1.3" fill="none"/>
<path d="M1575.9 978.9L1575.9 990" stroke="#3a3839" stroke-width="1.3" fill="none"/>
<path d="M1615.7 978.9L1615.7 990" stroke="#3a3839" stroke-width="1.3" fill="none"/>
<text x="1490.22" y="1018.33" font-size="21">–</text>
<text x="1528.9" y="1019.78" font-size="24">+</text>
<text x="1570.07" y="1018.33" font-size="21">–</text>
<text x="1608.7" y="1019.78" font-size="24">+</text>
<path d="M1482.4 1033.9L1550.2 1033.9" stroke="#3a3839" stroke-width="1.3" fill="none"/>
<path d="M1562.1 1033.9L1630 1033.9" stroke="#3a3839" stroke-width="1.3" fill="none"/>
<text x="1496.48" y="1065.6" font-size="27" letter-spacing="-3.74">WT</text>
<text x="1553.04" y="1065.6" font-size="27" letter-spacing="-0.82"><tspan font-style="italic">Sc</tspan>URA</text>
<text x="1514.99" y="646.7" font-size="27" letter-spacing="1.18">Malate</text>
<path d="M1671.6 664.9L1671.6 978.9" stroke="#3a3839" stroke-width="1.3" fill="none"/>
<path d="M1661 693.4L1671.6 693.4" stroke="#3a3839" stroke-width="1.3" fill="none"/>
<path d="M1666 729.09L1671.6 729.09" stroke="#3a3839" stroke-width="1.3" fill="none"/>
<path d="M1666 764.77L1671.6 764.77" stroke="#3a3839" stroke-width="1.3" fill="none"/>
<path d="M1666 800.46L1671.6 800.46" stroke="#3a3839" stroke-width="1.3" fill="none"/>
<path d="M1661 836.15L1671.6 836.15" stroke="#3a3839" stroke-width="1.3" fill="none"/>
<path d="M1666 871.84L1671.6 871.84" stroke="#3a3839" stroke-width="1.3" fill="none"/>
<path d="M1666 907.52L1671.6 907.52" stroke="#3a3839" stroke-width="1.3" fill="none"/>
<path d="M1666 943.21L1671.6 943.21" stroke="#3a3839" stroke-width="1.3" fill="none"/>
<path d="M1661 978.9L1671.6 978.9" stroke="#3a3839" stroke-width="1.3" fill="none"/>
<rect x="1688.6" y="694.5" width="29.9" height="60.5" fill="#6eaadc" stroke="#2b292a" stroke-width="1.35"/>
<rect x="1688.6" y="755" width="29.9" height="223.9" fill="#ffffff" stroke="#2b292a" stroke-width="1.35"/>
<rect x="1729" y="694.5" width="29.7" height="284.4" fill="#ffffff" stroke="#2b292a" stroke-width="1.35"/>
<rect x="1769.5" y="694.5" width="29.7" height="98.6" fill="#6eaadc" stroke="#2b292a" stroke-width="1.35"/>
<rect x="1769.5" y="793.1" width="29.7" height="185.8" fill="#ffffff" stroke="#2b292a" stroke-width="1.35"/>
<rect x="1809.7" y="694.5" width="29.7" height="1.2" fill="#ffffff" stroke="#2b292a" stroke-width="1.35"/>
<rect x="1809.7" y="695.7" width="29.7" height="64.5" fill="#f0544a" stroke="#2b292a" stroke-width="1.35"/>
<rect x="1809.7" y="760.2" width="29.7" height="218.7" fill="#ffffff" stroke="#2b292a" stroke-width="1.35"/>
<path d="M1661 978.9L1855.8 978.9" stroke="#3a3839" stroke-width="1.3" fill="none"/>
<path d="M1703.55 661.7L1703.55 695" stroke="#231f20" stroke-width="1.3" fill="none"/>
<path d="M1695.3 661.7L1711.8 661.7" stroke="#231f20" stroke-width="1.3" fill="none"/>
<path d="M1703.55 721.3L1703.55 755" stroke="#231f20" stroke-width="1.3" fill="none"/>
<path d="M1695.3 721.3L1711.8 721.3" stroke="#231f20" stroke-width="1.3" fill="none"/>
<path d="M1703.55 751.5L1703.55 751.5" stroke="#231f20" stroke-width="1.3" fill="none"/>
<path d="M1695.3 751.5L1711.8 751.5" stroke="#231f20" stroke-width="1.3" fill="none"/>
<path d="M1784.35 681.1L1784.35 695" stroke="#231f20" stroke-width="1.3" fill="none"/>
<path d="M1776.1 681.1L1792.6 681.1" stroke="#231f20" stroke-width="1.3" fill="none"/>
<path d="M1784.35 778.5L1784.35 793.1" stroke="#231f20" stroke-width="1.3" fill="none"/>
<path d="M1776.1 778.5L1792.6 778.5" stroke="#231f20" stroke-width="1.3" fill="none"/>
<path d="M1824.55 685.2L1824.55 695.7" stroke="#231f20" stroke-width="1.3" fill="none"/>
<path d="M1816.3 685.2L1832.8 685.2" stroke="#231f20" stroke-width="1.3" fill="none"/>
<path d="M1824.55 693.5L1824.55 693.5" stroke="#231f20" stroke-width="1.3" fill="none"/>
<path d="M1816.3 693.5L1832.8 693.5" stroke="#231f20" stroke-width="1.3" fill="none"/>
<path d="M1824.55 750.2L1824.55 760.2" stroke="#231f20" stroke-width="1.3" fill="none"/>
<path d="M1816.3 750.2L1832.8 750.2" stroke="#231f20" stroke-width="1.3" fill="none"/>
<path d="M1703.55 978.9L1703.55 990" stroke="#3a3839" stroke-width="1.3" fill="none"/>
<path d="M1743.85 978.9L1743.85 990" stroke="#3a3839" stroke-width="1.3" fill="none"/>
<path d="M1784.35 978.9L1784.35 990" stroke="#3a3839" stroke-width="1.3" fill="none"/>
<path d="M1824.55 978.9L1824.55 990" stroke="#3a3839" stroke-width="1.3" fill="none"/>
<text x="1697.72" y="1018.33" font-size="21">–</text>
<text x="1736.85" y="1019.78" font-size="24">+</text>
<text x="1778.52" y="1018.33" font-size="21">–</text>
<text x="1817.55" y="1019.78" font-size="24">+</text>
<path d="M1689.6 1033.9L1758.2 1033.9" stroke="#3a3839" stroke-width="1.3" fill="none"/>
<path d="M1770.5 1033.9L1838.9 1033.9" stroke="#3a3839" stroke-width="1.3" fill="none"/>
<text x="1707.08" y="1065.6" font-size="27" letter-spacing="-3.84">WT</text>
<text x="1763.74" y="1065.6" font-size="27" letter-spacing="-0.92"><tspan font-style="italic">Sc</tspan>URA</text>
<text x="1733.84" y="646.7" font-size="27" letter-spacing="0.46">2-SC</text>
<path d="M1881.7 664.9L1881.7 978.9" stroke="#3a3839" stroke-width="1.3" fill="none"/>
<path d="M1871.1 693.4L1881.7 693.4" stroke="#3a3839" stroke-width="1.3" fill="none"/>
<path d="M1876.1 729.09L1881.7 729.09" stroke="#3a3839" stroke-width="1.3" fill="none"/>
<path d="M1876.1 764.77L1881.7 764.77" stroke="#3a3839" stroke-width="1.3" fill="none"/>
<path d="M1876.1 800.46L1881.7 800.46" stroke="#3a3839" stroke-width="1.3" fill="none"/>
<path d="M1871.1 836.15L1881.7 836.15" stroke="#3a3839" stroke-width="1.3" fill="none"/>
<path d="M1876.1 871.84L1881.7 871.84" stroke="#3a3839" stroke-width="1.3" fill="none"/>
<path d="M1876.1 907.52L1881.7 907.52" stroke="#3a3839" stroke-width="1.3" fill="none"/>
<path d="M1876.1 943.21L1881.7 943.21" stroke="#3a3839" stroke-width="1.3" fill="none"/>
<path d="M1871.1 978.9L1881.7 978.9" stroke="#3a3839" stroke-width="1.3" fill="none"/>
<rect x="1898.7" y="694.5" width="30" height="33.3" fill="#6eaadc" stroke="#2b292a" stroke-width="1.35"/>
<rect x="1898.7" y="727.8" width="30" height="251.1" fill="#ffffff" stroke="#2b292a" stroke-width="1.35"/>
<rect x="1938.6" y="694.5" width="29.4" height="137.7" fill="#6eaadc" stroke="#2b292a" stroke-width="1.35"/>
<rect x="1938.6" y="832.2" width="29.4" height="146.7" fill="#ffffff" stroke="#2b292a" stroke-width="1.35"/>
<rect x="1978.6" y="694.5" width="29.4" height="41.6" fill="#6eaadc" stroke="#2b292a" stroke-width="1.35"/>
<rect x="1978.6" y="736.1" width="29.4" height="242.8" fill="#ffffff" stroke="#2b292a" stroke-width="1.35"/>
<rect x="2018.2" y="694.5" width="29.4" height="123.9" fill="#6eaadc" stroke="#2b292a" stroke-width="1.35"/>
<rect x="2018.2" y="818.4" width="29.4" height="28.1" fill="#f0544a" stroke="#2b292a" stroke-width="1.35"/>
<rect x="2018.2" y="846.5" width="29.4" height="132.4" fill="#ffffff" stroke="#2b292a" stroke-width="1.35"/>
<path d="M1871.1 978.9L2064.9 978.9" stroke="#3a3839" stroke-width="1.3" fill="none"/>
<path d="M1913.7 682.2L1913.7 695" stroke="#231f20" stroke-width="1.3" fill="none"/>
<path d="M1905.45 682.2L1921.95 682.2" stroke="#231f20" stroke-width="1.3" fill="none"/>
<path d="M1913.7 714L1913.7 727.8" stroke="#231f20" stroke-width="1.3" fill="none"/>
<path d="M1905.45 714L1921.95 714" stroke="#231f20" stroke-width="1.3" fill="none"/>
<path d="M1913.7 725.1L1913.7 725.1" stroke="#231f20" stroke-width="1.3" fill="none"/>
<path d="M1905.45 725.1L1921.95 725.1" stroke="#231f20" stroke-width="1.3" fill="none"/>
<path d="M1953.3 681.1L1953.3 695" stroke="#231f20" stroke-width="1.3" fill="none"/>
<path d="M1945.05 681.1L1961.55 681.1" stroke="#231f20" stroke-width="1.3" fill="none"/>
<path d="M1953.3 818.7L1953.3 832.2" stroke="#231f20" stroke-width="1.3" fill="none"/>
<path d="M1945.05 818.7L1961.55 818.7" stroke="#231f20" stroke-width="1.3" fill="none"/>
<path d="M1993.3 668.7L1993.3 695" stroke="#231f20" stroke-width="1.3" fill="none"/>
<path d="M1985.05 668.7L2001.55 668.7" stroke="#231f20" stroke-width="1.3" fill="none"/>
<path d="M1993.3 710.8L1993.3 736.1" stroke="#231f20" stroke-width="1.3" fill="none"/>
<path d="M1985.05 710.8L2001.55 710.8" stroke="#231f20" stroke-width="1.3" fill="none"/>
<path d="M1993.3 732.6L1993.3 732.6" stroke="#231f20" stroke-width="1.3" fill="none"/>
<path d="M1985.05 732.6L2001.55 732.6" stroke="#231f20" stroke-width="1.3" fill="none"/>
<path d="M2032.9 691.4L2032.9 695" stroke="#231f20" stroke-width="1.3" fill="none"/>
<path d="M2024.65 691.4L2041.15 691.4" stroke="#231f20" stroke-width="1.3" fill="none"/>
<path d="M2032.9 817.1L2032.9 818.4" stroke="#231f20" stroke-width="1.3" fill="none"/>
<path d="M2024.65 817.1L2041.15 817.1" stroke="#231f20" stroke-width="1.3" fill="none"/>
<path d="M2032.9 842.7L2032.9 846.5" stroke="#231f20" stroke-width="1.3" fill="none"/>
<path d="M2024.65 842.7L2041.15 842.7" stroke="#231f20" stroke-width="1.3" fill="none"/>
<path d="M1913.7 978.9L1913.7 990" stroke="#3a3839" stroke-width="1.3" fill="none"/>
<path d="M1953.3 978.9L1953.3 990" stroke="#3a3839" stroke-width="1.3" fill="none"/>
<path d="M1993.3 978.9L1993.3 990" stroke="#3a3839" stroke-width="1.3" fill="none"/>
<path d="M2032.9 978.9L2032.9 990" stroke="#3a3839" stroke-width="1.3" fill="none"/>
<text x="1907.87" y="1018.33" font-size="21">–</text>
<text x="1946.3" y="1019.78" font-size="24">+</text>
<text x="1987.47" y="1018.33" font-size="21">–</text>
<text x="2025.9" y="1019.78" font-size="24">+</text>
<path d="M1899.7 1033.9L1967.5 1033.9" stroke="#3a3839" stroke-width="1.3" fill="none"/>
<path d="M1979.6 1033.9L2047.1 1033.9" stroke="#3a3839" stroke-width="1.3" fill="none"/>
<text x="1914.18" y="1065.6" font-size="27" letter-spacing="-3.84">WT</text>
<text x="1969.74" y="1065.6" font-size="27" letter-spacing="-0.92"><tspan font-style="italic">Sc</tspan>URA</text>
<text x="1909.37" y="646.7" font-size="27" letter-spacing="1.16">Succinate</text>
<rect x="2071.1" y="704.3" width="23.5" height="22.9" fill="#ffffff" stroke="#2b292a" stroke-width="1.4"/>
<text x="2108.81" y="722.9" font-size="27" letter-spacing="1.79">m+0</text>
<rect x="2071.1" y="741.9" width="23.5" height="22.9" fill="#c7c8ca" stroke="#2b292a" stroke-width="1.4"/>
<text x="2108.81" y="760.5" font-size="27" letter-spacing="-2.08">m+1</text>
<rect x="2071.1" y="779.5" width="23.5" height="22.9" fill="#1db04b" stroke="#2b292a" stroke-width="1.4"/>
<text x="2108.81" y="798.1" font-size="27" letter-spacing="0.69">m+2</text>
<rect x="2071.1" y="817.1" width="23.5" height="22.9" fill="#f0544a" stroke="#2b292a" stroke-width="1.4"/>
<text x="2108.81" y="835.7" font-size="27" letter-spacing="1.1">m+3</text>
<rect x="2071.1" y="854.7" width="23.5" height="22.9" fill="#6eaadc" stroke="#2b292a" stroke-width="1.4"/>
<text x="2108.81" y="873.3" font-size="27" letter-spacing="1.4">m+4</text>
<rect x="2071.1" y="892.3" width="23.5" height="22.9" fill="#fbf6ae" stroke="#2b292a" stroke-width="1.4"/>
<text x="2108.81" y="910.9" font-size="27" letter-spacing="0.58">m+5</text>
<text transform="translate(920.7 1124.4) scale(1.09 1)" x="-1.54" y="0" font-size="39.5" font-weight="700" stroke="#231f20" stroke-width="0.7" stroke-linejoin="round">e</text>
<text x="1130.89" y="1125.1" font-size="27" letter-spacing="1.17">Reductive labelling</text>
<text x="1166.13" y="1157.5" font-size="27" letter-spacing="1.06">(no inhibitors)</text>
<text x="875.39" y="1355.5" font-size="27" letter-spacing="0.87" transform="rotate(-90 985.1 1355.5)">Relative labelling</text>
<text x="933.73" y="1355.5" font-size="27" letter-spacing="0.83" transform="rotate(-90 1017.9 1355.5)">(citrate: m+5;</text>
<text x="901.15" y="1355.5" font-size="27" letter-spacing="0.59" transform="rotate(-90 1050.3 1355.5)">aspartate, malate: m+3)</text>
<path d="M1106.5 1206.3L1106.5 1504.5" stroke="#414042" stroke-width="1.3" fill="none"/>
<path d="M1096.1 1504.5L1106.5 1504.5" stroke="#414042" stroke-width="1.3" fill="none"/>
<text x="1071.7" y="1514.05" font-size="23.4">0</text>
<path d="M1096.1 1444.86L1106.5 1444.86" stroke="#414042" stroke-width="1.3" fill="none"/>
<text x="1071.93" y="1454.41" font-size="23.4">1</text>
<path d="M1096.1 1385.22L1106.5 1385.22" stroke="#414042" stroke-width="1.3" fill="none"/>
<text x="1071.96" y="1394.77" font-size="23.4">2</text>
<path d="M1096.1 1325.58L1106.5 1325.58" stroke="#414042" stroke-width="1.3" fill="none"/>
<text x="1071.81" y="1335.13" font-size="23.4">3</text>
<path d="M1096.1 1265.94L1106.5 1265.94" stroke="#414042" stroke-width="1.3" fill="none"/>
<text x="1071.47" y="1275.49" font-size="23.4">4</text>
<path d="M1096.1 1206.3L1106.5 1206.3" stroke="#414042" stroke-width="1.3" fill="none"/>
<text x="1071.77" y="1215.85" font-size="23.4">5</text>
<rect x="1122.5" y="1446" width="28.2" height="58.5" fill="#e0e1e2" stroke="#414042" stroke-width="1.2"/>
<rect x="1160.6" y="1258.1" width="27.8" height="246.4" fill="#cbe6c7" stroke="#414042" stroke-width="1.2"/>
<rect x="1220.7" y="1446" width="28" height="58.5" fill="#e0e1e2" stroke="#414042" stroke-width="1.2"/>
<rect x="1258.4" y="1417.3" width="28" height="87.2" fill="#cbe6c7" stroke="#414042" stroke-width="1.2"/>
<rect x="1318.5" y="1446.2" width="28.2" height="58.3" fill="#e0e1e2" stroke="#414042" stroke-width="1.2"/>
<rect x="1356.2" y="1384.7" width="28.2" height="119.8" fill="#cbe6c7" stroke="#414042" stroke-width="1.2"/>
<path d="M1096.1 1504.5L1403.6 1504.5" stroke="#414042" stroke-width="1.3" fill="none"/>
<path d="M1155.1 1504.5L1155.1 1514.6" stroke="#414042" stroke-width="1.3" fill="none"/>
<path d="M1253.1 1504.5L1253.1 1514.6" stroke="#414042" stroke-width="1.3" fill="none"/>
<path d="M1351.1 1504.5L1351.1 1514.6" stroke="#414042" stroke-width="1.3" fill="none"/>
<path d="M1136.6 1438.1L1136.6 1446" stroke="#231f20" stroke-width="1.3" fill="none"/>
<path d="M1125.6 1438.1L1147.6 1438.1" stroke="#231f20" stroke-width="1.3" fill="none"/>
<path d="M1174.3 1244.6L1174.3 1258.1" stroke="#231f20" stroke-width="1.3" fill="none"/>
<path d="M1166.3 1244.6L1182.3 1244.6" stroke="#231f20" stroke-width="1.3" fill="none"/>
<path d="M1234.6 1430.2L1234.6 1446" stroke="#231f20" stroke-width="1.3" fill="none"/>
<path d="M1226.6 1430.2L1242.6 1430.2" stroke="#231f20" stroke-width="1.3" fill="none"/>
<path d="M1271.9 1407.1L1271.9 1417.3" stroke="#231f20" stroke-width="1.3" fill="none"/>
<path d="M1263.9 1407.1L1279.9 1407.1" stroke="#231f20" stroke-width="1.3" fill="none"/>
<path d="M1332.6 1421.7L1332.6 1446.2" stroke="#231f20" stroke-width="1.3" fill="none"/>
<path d="M1324.6 1421.7L1340.6 1421.7" stroke="#231f20" stroke-width="1.3" fill="none"/>
<path d="M1370.1 1368.5L1370.1 1384.7" stroke="#231f20" stroke-width="1.3" fill="none"/>
<path d="M1362.1 1368.5L1378.1 1368.5" stroke="#231f20" stroke-width="1.3" fill="none"/>
<circle cx="1136.6" cy="1437.4" r="4.4" fill="#231f20"/>
<circle cx="1125.5" cy="1450.6" r="4.4" fill="#231f20"/>
<circle cx="1147.7" cy="1447.1" r="4.4" fill="#231f20"/>
<circle cx="1174.3" cy="1245.3" r="4.4" fill="#231f20"/>
<circle cx="1174.3" cy="1256.2" r="4.4" fill="#231f20"/>
<circle cx="1174.3" cy="1270.1" r="4.4" fill="#231f20"/>
<circle cx="1234.6" cy="1427.9" r="4.4" fill="#231f20"/>
<circle cx="1223.8" cy="1455.7" r="4.4" fill="#231f20"/>
<circle cx="1245.7" cy="1451.8" r="4.4" fill="#231f20"/>
<circle cx="1261.2" cy="1410.6" r="4.4" fill="#231f20"/>
<circle cx="1283.4" cy="1412" r="4.4" fill="#231f20"/>
<circle cx="1271.9" cy="1425.9" r="4.4" fill="#231f20"/>
<circle cx="1332.6" cy="1422.2" r="4.4" fill="#231f20"/>
<circle cx="1332.6" cy="1444.8" r="4.4" fill="#231f20"/>
<circle cx="1332.6" cy="1469.1" r="4.4" fill="#231f20"/>
<circle cx="1359.2" cy="1372" r="4.4" fill="#231f20"/>
<circle cx="1381.4" cy="1379.4" r="4.4" fill="#231f20"/>
<circle cx="1370.1" cy="1399.7" r="4.4" fill="#231f20"/>
<text x="1126.53" y="1214.62" font-size="34" letter-spacing="1.47">****</text>
<path d="M1135.9 1213.7L1174.7 1213.7" stroke="#414042" stroke-width="1.3" fill="none"/>
<text x="1247.18" y="1318.62" font-size="34">*</text>
<path d="M1234.2 1317.5L1272.8 1317.5" stroke="#414042" stroke-width="1.3" fill="none"/>
<text x="1323.33" y="1318.62" font-size="34" letter-spacing="1.47">****</text>
<path d="M1331.9 1317.5L1370.5 1317.5" stroke="#414042" stroke-width="1.3" fill="none"/>
<rect x="1394.8" y="1264.3" width="23.8" height="23.1" fill="#e0e1e2" stroke="#414042" stroke-width="1.2"/>
<rect x="1394.8" y="1301.5" width="23.8" height="23.2" fill="#c5e4c8" stroke="#414042" stroke-width="1.2"/>
<text x="1433.98" y="1283.5" font-size="27" letter-spacing="-3.04">WT</text>
<text x="1433.34" y="1320.5" font-size="27" letter-spacing="-1.1"><tspan font-style="italic">Sc</tspan>URA</text>
<text x="1082.33" y="1534.3" font-size="27" letter-spacing="1.17" transform="rotate(-45 1167.7 1534.3)">Citrate</text>
<text x="1145.15" y="1534.5" font-size="27" letter-spacing="0.84" transform="rotate(-45 1266.2 1534.5)">Aspartate</text>
<text x="1278.49" y="1534.4" font-size="27" letter-spacing="1.18" transform="rotate(-45 1364.2 1534.4)">Malate</text>
<text transform="translate(1558.2 1124.4) scale(1.09 1)" x="-0.68" y="0" font-size="39.5" font-weight="700" stroke="#231f20" stroke-width="0.7" stroke-linejoin="round">f</text>
<text x="1717.27" y="1125.1" font-size="27" letter-spacing="0.73">Succinate m+3 and m+4</text>
<text x="1464.19" y="1332.6" font-size="27" letter-spacing="0.92" transform="rotate(-90 1580.9 1332.6)">Labelling intensity</text>
<path d="M1712.8 1180.6L1712.8 1380.5" stroke="#414042" stroke-width="1.3" fill="none"/>
<path d="M1712.8 1386.3L1712.8 1484.6" stroke="#414042" stroke-width="1.3" fill="none"/>
<path d="M1705.8 1380.5L1720.1 1380.5" stroke="#414042" stroke-width="1.3" fill="none"/>
<path d="M1705.8 1386.3L1720.1 1386.3" stroke="#414042" stroke-width="1.3" fill="none"/>
<path d="M1698.9 1199.6L1712.8 1199.6" stroke="#414042" stroke-width="1.3" fill="none"/>
<text x="1603.42" y="1209.15" font-size="23.4" letter-spacing="-0.83">1.5 × 10<tspan font-size="14.74" dy="-11">8</tspan></text>
<path d="M1698.9 1262.7L1712.8 1262.7" stroke="#414042" stroke-width="1.3" fill="none"/>
<text x="1601.12" y="1272.25" font-size="23.4" letter-spacing="-0.54">1.0 × 10<tspan font-size="14.74" dy="-11">8</tspan></text>
<path d="M1698.9 1324.7L1712.8 1324.7" stroke="#414042" stroke-width="1.3" fill="none"/>
<text x="1598.96" y="1334.25" font-size="23.4" letter-spacing="-0.26">5.0 × 10<tspan font-size="14.74" dy="-11">7</tspan></text>
<path d="M1702.3 1403L1712.8 1403" stroke="#414042" stroke-width="1.3" fill="none"/>
<text x="1619.76" y="1412.55" font-size="23.4" letter-spacing="-0.57">5 × 10<tspan font-size="14.74" dy="-11">6</tspan></text>
<text x="1677.1" y="1494.15" font-size="23.4">0</text>
<rect x="1759.5" y="1427.5" width="27.9" height="57.1" fill="#3b87c9" stroke="#414042" stroke-width="1.2"/>
<rect x="1835.3" y="1311.9" width="27.5" height="68.6" fill="#3b87c9"/>
<rect x="1835.3" y="1386.3" width="27.5" height="98.3" fill="#3b87c9"/>
<path d="M1835.3 1380.5L1835.3 1311.9L1862.8 1311.9L1862.8 1380.5" stroke="#414042" stroke-width="1.2" fill="none"/>
<path d="M1835.3 1386.3L1835.3 1484.6" stroke="#414042" stroke-width="1.2" fill="none"/>
<path d="M1862.8 1386.3L1862.8 1484.6" stroke="#414042" stroke-width="1.2" fill="none"/>
<rect x="1910.9" y="1438.8" width="27.8" height="45.8" fill="#3b87c9" stroke="#414042" stroke-width="1.2"/>
<rect x="1955.5" y="1350.6" width="28.2" height="29.9" fill="#ed1c24"/>
<rect x="1955.5" y="1386.3" width="28.2" height="98.3" fill="#ed1c24"/>
<path d="M1955.5 1380.5L1955.5 1350.6L1983.7 1350.6L1983.7 1380.5" stroke="#414042" stroke-width="1.2" fill="none"/>
<path d="M1955.5 1386.3L1955.5 1484.6" stroke="#414042" stroke-width="1.2" fill="none"/>
<path d="M1983.7 1386.3L1983.7 1484.6" stroke="#414042" stroke-width="1.2" fill="none"/>
<rect x="1986.3" y="1212.3" width="28.6" height="168.2" fill="#3b87c9"/>
<rect x="1986.3" y="1386.3" width="28.6" height="98.3" fill="#3b87c9"/>
<path d="M1986.3 1380.5L1986.3 1212.3L2014.9 1212.3L2014.9 1380.5" stroke="#414042" stroke-width="1.2" fill="none"/>
<path d="M1986.3 1386.3L1986.3 1484.6" stroke="#414042" stroke-width="1.2" fill="none"/>
<path d="M2014.9 1386.3L2014.9 1484.6" stroke="#414042" stroke-width="1.2" fill="none"/>
<path d="M1702.3 1484.6L2030.7 1484.6" stroke="#414042" stroke-width="1.3" fill="none"/>
<path d="M1757.8 1484.6L1757.8 1495.2" stroke="#414042" stroke-width="1.3" fill="none"/>
<path d="M1833.5 1484.6L1833.5 1495.2" stroke="#414042" stroke-width="1.3" fill="none"/>
<path d="M1908.8 1484.6L1908.8 1495.2" stroke="#414042" stroke-width="1.3" fill="none"/>
<path d="M1984.4 1484.6L1984.4 1495.2" stroke="#414042" stroke-width="1.3" fill="none"/>
<path d="M1773.3 1402.7L1773.3 1427.5" stroke="#231f20" stroke-width="1.3" fill="none"/>
<path d="M1765.3 1402.7L1781.3 1402.7" stroke="#231f20" stroke-width="1.3" fill="none"/>
<path d="M1848.7 1299.2L1848.7 1311.9" stroke="#231f20" stroke-width="1.3" fill="none"/>
<path d="M1840.7 1299.2L1856.7 1299.2" stroke="#231f20" stroke-width="1.3" fill="none"/>
<path d="M1924.5 1403L1924.5 1438.8" stroke="#231f20" stroke-width="1.3" fill="none"/>
<path d="M1916.5 1403L1932.5 1403" stroke="#231f20" stroke-width="1.3" fill="none"/>
<path d="M1969.8 1343.6L1969.8 1350.6" stroke="#231f20" stroke-width="1.3" fill="none"/>
<path d="M1961.8 1343.6L1977.8 1343.6" stroke="#231f20" stroke-width="1.3" fill="none"/>
<path d="M2000.1 1189.2L2000.1 1212.3" stroke="#231f20" stroke-width="1.3" fill="none"/>
<path d="M1992.1 1189.2L2008.1 1189.2" stroke="#231f20" stroke-width="1.3" fill="none"/>
<circle cx="1731.9" cy="1484.6" r="4.4" fill="#231f20"/>
<circle cx="1742.8" cy="1484.6" r="4.4" fill="#231f20"/>
<circle cx="1753.9" cy="1484.6" r="4.4" fill="#231f20"/>
<circle cx="1807.6" cy="1484.6" r="4.4" fill="#231f20"/>
<circle cx="1818.7" cy="1484.6" r="4.4" fill="#231f20"/>
<circle cx="1830" cy="1484.6" r="4.4" fill="#231f20"/>
<circle cx="1883.2" cy="1484.6" r="4.4" fill="#231f20"/>
<circle cx="1894.3" cy="1484.6" r="4.4" fill="#231f20"/>
<circle cx="1905.1" cy="1484.6" r="4.4" fill="#231f20"/>
<circle cx="1773.3" cy="1399" r="4.4" fill="#231f20"/>
<circle cx="1762" cy="1441.8" r="4.4" fill="#231f20"/>
<circle cx="1784.4" cy="1437.2" r="4.4" fill="#231f20"/>
<circle cx="1848.7" cy="1300.1" r="4.4" fill="#231f20"/>
<circle cx="1848.7" cy="1308.9" r="4.4" fill="#231f20"/>
<circle cx="1848.7" cy="1322.8" r="4.4" fill="#231f20"/>
<circle cx="1924.5" cy="1397.6" r="4.4" fill="#231f20"/>
<circle cx="1913.9" cy="1458.7" r="4.4" fill="#231f20"/>
<circle cx="1935.8" cy="1456.4" r="4.4" fill="#231f20"/>
<circle cx="1969.8" cy="1342.9" r="4.4" fill="#231f20"/>
<circle cx="1959" cy="1352.2" r="4.4" fill="#231f20"/>
<circle cx="1980.9" cy="1351" r="4.4" fill="#231f20"/>
<circle cx="2000.1" cy="1186.4" r="4.4" fill="#231f20"/>
<circle cx="1989" cy="1226.1" r="4.4" fill="#231f20"/>
<circle cx="2011.5" cy="1219.9" r="4.4" fill="#231f20"/>
<text x="1873.38" y="1247.82" font-size="34" letter-spacing="1.47">***</text>
<path d="M1818.6 1463.3L1818.6 1246.5L1970.1 1246.5L1970.1 1288.6" stroke="#414042" stroke-width="1.2" fill="none"/>
<rect x="2045.7" y="1264.5" width="23.1" height="22.9" fill="#ed1c24" stroke="#414042" stroke-width="1.2"/>
<rect x="2045.7" y="1301.5" width="23.1" height="23.2" fill="#3b87c9" stroke="#414042" stroke-width="1.2"/>
<text x="2082.51" y="1283.5" font-size="27" letter-spacing="1.45">m+3</text>
<text x="2082.51" y="1320.5" font-size="27" letter-spacing="1.25">m+4</text>
<text x="1575.15" y="1526.9" font-size="27" letter-spacing="1.43">Anti/myxo:</text>
<text x="1751.97" y="1524.73" font-size="21">–</text>
<text x="1826.5" y="1526.18" font-size="24">+</text>
<text x="1902.97" y="1524.73" font-size="21">–</text>
<text x="1977.4" y="1526.18" font-size="24">+</text>
<path d="M1728.9 1539.6L1866.1 1539.6" stroke="#414042" stroke-width="1.3" fill="none"/>
<path d="M1880.8 1539.6L2017.9 1539.6" stroke="#414042" stroke-width="1.3" fill="none"/>
<text x="1778.48" y="1570.8" font-size="27" letter-spacing="-3.04">WT</text>
<text x="1906.14" y="1570.8" font-size="27" letter-spacing="-0.82"><tspan font-style="italic">Sc</tspan>URA</text>
<text transform="translate(1560.1 1676.5) scale(1.09 1)" x="-2.76" y="0" font-size="39.5" font-weight="700" stroke="#231f20" stroke-width="0.7" stroke-linejoin="round">h</text>
<text x="1754.84" y="1677" font-size="27" letter-spacing="0.42">2-SC m+3 and m+4</text>
<text x="1467.29" y="1849.8" font-size="27" letter-spacing="0.98" transform="rotate(-90 1584.5 1849.8)">Labelling intensity</text>
<path d="M1718.5 1701.7L1718.5 2004.7" stroke="#414042" stroke-width="1.3" fill="none"/>
<path d="M1708.1 1701.7L1718.5 1701.7" stroke="#414042" stroke-width="1.3" fill="none"/>
<text x="1605.62" y="1711.25" font-size="23.4" letter-spacing="-0.38">2.5 × 10<tspan font-size="14.74" dy="-11">5</tspan></text>
<path d="M1708.1 1762.3L1718.5 1762.3" stroke="#414042" stroke-width="1.3" fill="none"/>
<text x="1603.72" y="1771.85" font-size="23.4" letter-spacing="-0.14">2.0 × 10<tspan font-size="14.74" dy="-11">5</tspan></text>
<path d="M1708.1 1822.9L1718.5 1822.9" stroke="#414042" stroke-width="1.3" fill="none"/>
<text x="1609.22" y="1832.45" font-size="23.4" letter-spacing="-0.83">1.5 × 10<tspan font-size="14.74" dy="-11">5</tspan></text>
<path d="M1708.1 1883.3L1718.5 1883.3" stroke="#414042" stroke-width="1.3" fill="none"/>
<text x="1606.92" y="1892.85" font-size="23.4" letter-spacing="-0.54">1.0 × 10<tspan font-size="14.74" dy="-11">5</tspan></text>
<path d="M1708.1 1943.5L1718.5 1943.5" stroke="#414042" stroke-width="1.3" fill="none"/>
<text x="1604.76" y="1953.05" font-size="23.4" letter-spacing="-0.29">5.0 × 10<tspan font-size="14.74" dy="-11">4</tspan></text>
<text x="1683.4" y="2014.25" font-size="23.4">0</text>
<rect x="1765" y="1910.6" width="27.5" height="94.1" fill="#478bca" stroke="#414042" stroke-width="1.2"/>
<rect x="1915.7" y="1805.3" width="27.8" height="199.4" fill="#478bca" stroke="#414042" stroke-width="1.2"/>
<rect x="1960.6" y="1848.6" width="27.7" height="156.1" fill="#ee3124" stroke="#414042" stroke-width="1.2"/>
<path d="M1707.8 2004.7L2034.8 2004.7" stroke="#414042" stroke-width="1.3" fill="none"/>
<path d="M1762.8 2004.7L1762.8 2015" stroke="#414042" stroke-width="1.3" fill="none"/>
<path d="M1838.3 2004.7L1838.3 2015" stroke="#414042" stroke-width="1.3" fill="none"/>
<path d="M1913.5 2004.7L1913.5 2015" stroke="#414042" stroke-width="1.3" fill="none"/>
<path d="M1988.7 2004.7L1988.7 2015" stroke="#414042" stroke-width="1.3" fill="none"/>
<path d="M1778.3 1845.3L1778.3 1910.6" stroke="#231f20" stroke-width="1.3" fill="none"/>
<path d="M1770.3 1845.3L1786.3 1845.3" stroke="#231f20" stroke-width="1.3" fill="none"/>
<path d="M1928.9 1769L1928.9 1805.3" stroke="#231f20" stroke-width="1.3" fill="none"/>
<path d="M1920.9 1769L1936.9 1769" stroke="#231f20" stroke-width="1.3" fill="none"/>
<path d="M1974 1825.7L1974 1848.6" stroke="#231f20" stroke-width="1.3" fill="none"/>
<path d="M1966 1825.7L1982 1825.7" stroke="#231f20" stroke-width="1.3" fill="none"/>
<circle cx="1778.3" cy="1855.5" r="4.2" fill="#231f20"/>
<circle cx="1778.3" cy="1893" r="4.2" fill="#231f20"/>
<circle cx="1778.3" cy="1980.1" r="4.2" fill="#231f20"/>
<circle cx="1928.9" cy="1766" r="4.2" fill="#231f20"/>
<circle cx="1928.9" cy="1810.7" r="4.2" fill="#231f20"/>
<circle cx="1928.9" cy="1835.4" r="4.2" fill="#231f20"/>
<circle cx="1962.9" cy="1831.5" r="4.2" fill="#231f20"/>
<circle cx="1985.1" cy="1838.4" r="4.2" fill="#231f20"/>
<circle cx="1974" cy="1871.3" r="4.2" fill="#231f20"/>
<circle cx="1736.8" cy="2004.7" r="4.2" fill="#231f20"/>
<circle cx="1748.4" cy="2001.8" r="4.2" fill="#231f20"/>
<circle cx="1759.4" cy="2004.7" r="4.2" fill="#231f20"/>
<circle cx="1812.7" cy="2004.7" r="4.2" fill="#231f20"/>
<circle cx="1823.6" cy="2004.7" r="4.2" fill="#231f20"/>
<circle cx="1834.2" cy="2004.7" r="4.2" fill="#231f20"/>
<circle cx="1842.8" cy="2004.7" r="4.2" fill="#231f20"/>
<circle cx="1853.7" cy="2004.7" r="4.2" fill="#231f20"/>
<circle cx="1864.6" cy="2004.7" r="4.2" fill="#231f20"/>
<circle cx="1887.9" cy="2004.7" r="4.2" fill="#231f20"/>
<circle cx="1898.8" cy="2004.7" r="4.2" fill="#231f20"/>
<circle cx="1909.4" cy="2004.7" r="4.2" fill="#231f20"/>
<circle cx="1993.1" cy="2004.2" r="4.2" fill="#231f20"/>
<circle cx="2004.1" cy="2002.3" r="4.2" fill="#231f20"/>
<circle cx="2015" cy="2003.2" r="4.2" fill="#231f20"/>
<text x="1870.73" y="1725.52" font-size="34" letter-spacing="1.47">****</text>
<path d="M1827.6 1940.8L1827.6 1724.9L1978.6 1724.9L1978.6 1766.7" stroke="#414042" stroke-width="1.2" fill="none"/>
<rect x="2046.8" y="1844" width="27.1" height="24.9" fill="#ed1c24" stroke="#414042" stroke-width="1.2"/>
<rect x="2046.8" y="1896.2" width="27.1" height="25.2" fill="#3b87c9" stroke="#414042" stroke-width="1.2"/>
<text x="2087.41" y="1863.8" font-size="27" letter-spacing="1.4">m+3</text>
<text x="2087.41" y="1916.3" font-size="27" letter-spacing="1.2">m+4</text>
<text x="1582.95" y="2045.7" font-size="27" letter-spacing="1.35">Anti/myxo:</text>
<text x="1756.97" y="2053.33" font-size="21">–</text>
<text x="1831.3" y="2051.98" font-size="24">+</text>
<text x="1907.67" y="2053.33" font-size="21">–</text>
<text x="1981.7" y="2051.98" font-size="24">+</text>
<path d="M1733.4 2067.9L1870.8 2067.9" stroke="#414042" stroke-width="1.3" fill="none"/>
<path d="M1885.5 2067.9L2022.2 2067.9" stroke="#414042" stroke-width="1.3" fill="none"/>
<text x="1782.88" y="2103.1" font-size="27" letter-spacing="-2.34">WT</text>
<text x="1909.34" y="2103.1" font-size="27" letter-spacing="-0.57"><tspan font-style="italic">Sc</tspan>URA</text>
<text transform="translate(919.5 1676.4) scale(1.09 1)" x="-1.62" y="0" font-size="39.5" font-weight="700" stroke="#231f20" stroke-width="0.7" stroke-linejoin="round">g</text>
<text x="1192.89" y="1757.8" font-size="27" letter-spacing="0.75">Fumarate</text>
<circle cx="1219.5" cy="1791.1" r="10.55" fill="#ed1c24" stroke="#231f20" stroke-width="2.5"/>
<circle cx="1242.47" cy="1791.1" r="10.55" fill="#ed1c24" stroke="#231f20" stroke-width="2.5"/>
<circle cx="1265.44" cy="1791.1" r="10.55" fill="#ed1c24" stroke="#231f20" stroke-width="2.5"/>
<circle cx="1288.41" cy="1791.1" r="10.55" fill="#ffffff" stroke="#231f20" stroke-width="2.5"/>
<circle cx="1219.5" cy="1820.4" r="10.55" fill="#29abe2" stroke="#231f20" stroke-width="2.5"/>
<circle cx="1242.47" cy="1820.4" r="10.55" fill="#29abe2" stroke="#231f20" stroke-width="2.5"/>
<circle cx="1265.44" cy="1820.4" r="10.55" fill="#29abe2" stroke="#231f20" stroke-width="2.5"/>
<circle cx="1288.41" cy="1820.4" r="10.55" fill="#29abe2" stroke="#231f20" stroke-width="2.5"/>
<circle cx="1219.5" cy="2011.5" r="10.55" fill="#ed1c24" stroke="#231f20" stroke-width="2.5"/>
<circle cx="1242.47" cy="2011.5" r="10.55" fill="#ed1c24" stroke="#231f20" stroke-width="2.5"/>
<circle cx="1265.44" cy="2011.5" r="10.55" fill="#ed1c24" stroke="#231f20" stroke-width="2.5"/>
<circle cx="1288.41" cy="2011.5" r="10.55" fill="#ffffff" stroke="#231f20" stroke-width="2.5"/>
<circle cx="1219.5" cy="2040.8" r="10.55" fill="#29abe2" stroke="#231f20" stroke-width="2.5"/>
<circle cx="1242.47" cy="2040.8" r="10.55" fill="#29abe2" stroke="#231f20" stroke-width="2.5"/>
<circle cx="1265.44" cy="2040.8" r="10.55" fill="#29abe2" stroke="#231f20" stroke-width="2.5"/>
<circle cx="1288.41" cy="2040.8" r="10.55" fill="#29abe2" stroke="#231f20" stroke-width="2.5"/>
<polygon points="1245.6,1936.9 1238.56,1919.32 1245.75,1924.4 1253.06,1919.49" fill="#3c5171"/>
<path d="M1246.6 1852.1L1245.74 1925.4" stroke="#3c5171" stroke-width="4.3" fill="none"/>
<path d="M1276.2 1885.1Q1250 1890 1246.3 1916" stroke="#3c5171" stroke-width="4.3" fill="none"/>
<text x="1295.43" y="1894.4" font-size="27" letter-spacing="0.9">Cysteine</text>
<text x="1097.67" y="1982.9" font-size="27" letter-spacing="0.22">S-(2-SC)-cysteine (2-SC)</text>
</svg>
</body></html>
